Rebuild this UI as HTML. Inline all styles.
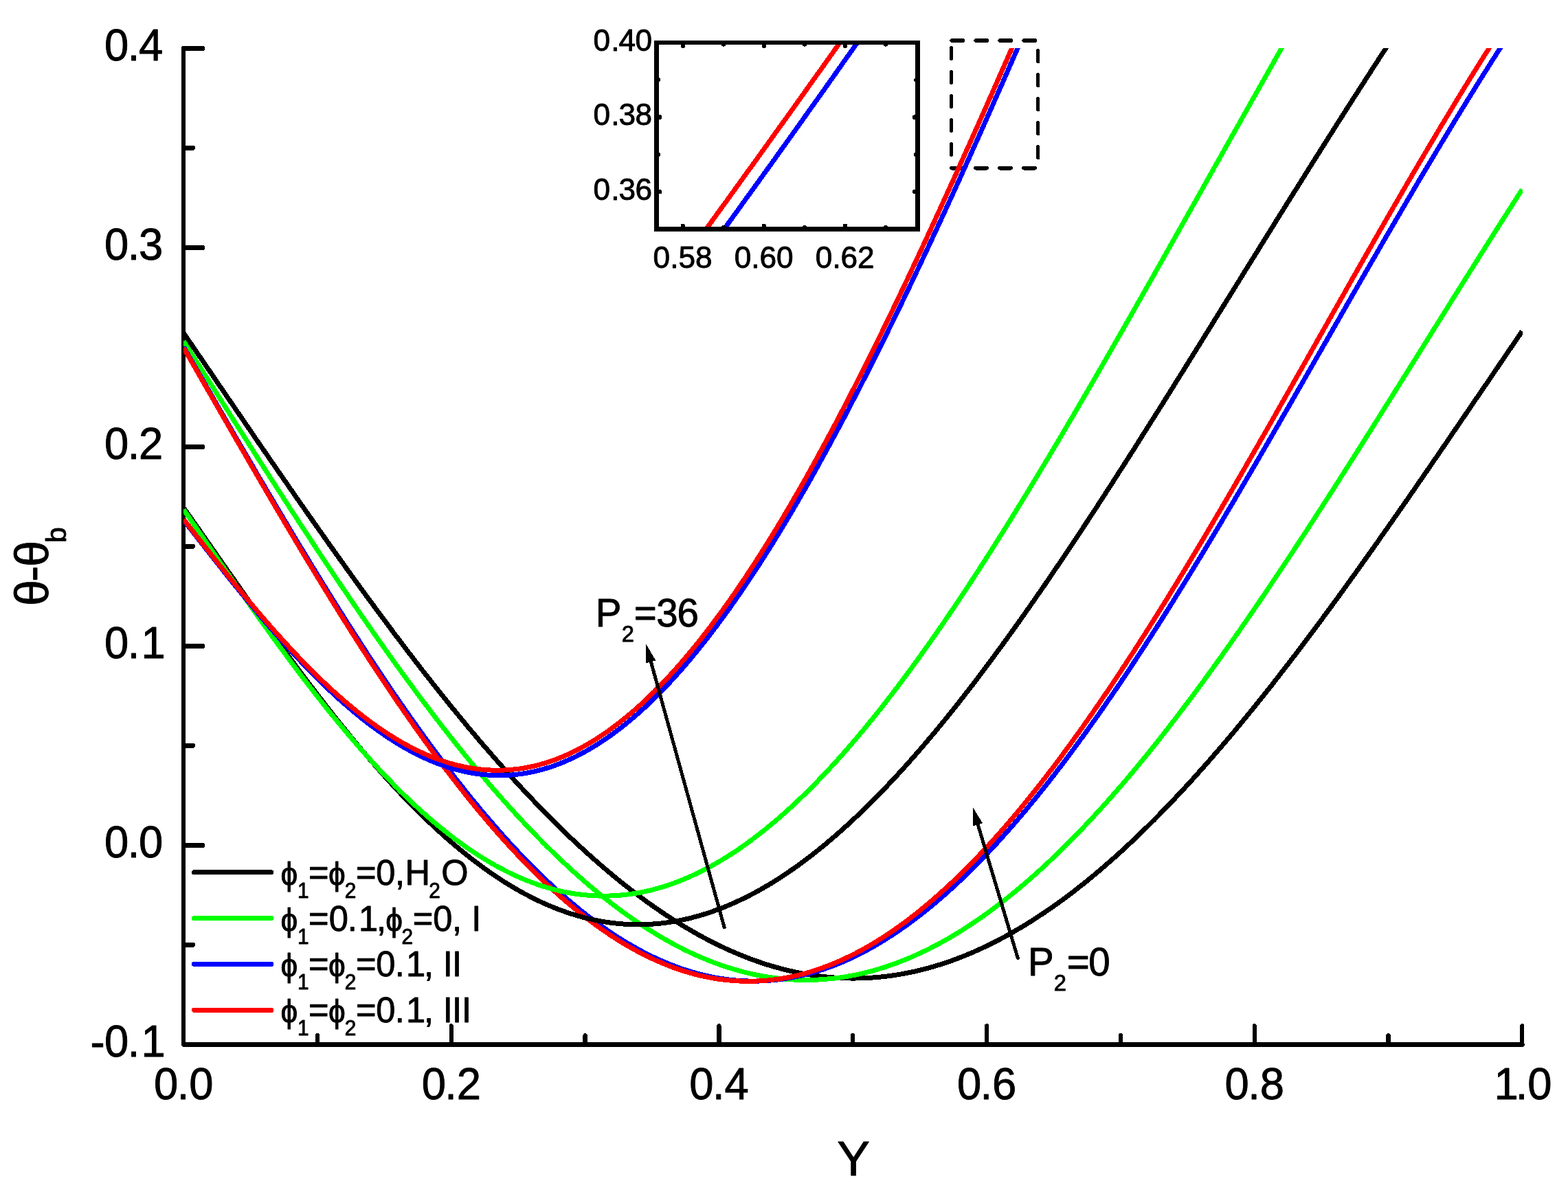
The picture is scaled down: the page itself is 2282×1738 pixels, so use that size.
<!DOCTYPE html>
<html lang="en"><head><meta charset="utf-8"><title>Temperature profile</title>
<style>html,body{margin:0;padding:0;background:#fff}svg{display:block}text{font-family:"Liberation Sans",sans-serif;fill:#000;stroke:#000;stroke-width:0.9px;stroke-linejoin:round;white-space:pre}</style></head><body>
<svg width="2282" height="1738" viewBox="0 0 2282 1738" role="img" aria-label="Temperature profile chart">
<rect x="0" y="0" width="2282" height="1738" fill="#fff"/>
<defs>
<clipPath id="plotclip"><rect x="267" y="70" width="1949" height="1454"/></clipPath>
<clipPath id="insclip"><rect x="955.6" y="62.1" width="380.1" height="271.3"/></clipPath>
</defs>
<g fill="none" stroke="#000" stroke-width="5.8" stroke-linecap="round" stroke-dasharray="15.8 19.2" shape-rendering="crispEdges">
<path d="M1385.2,59 H1514"/>
<path d="M1385.2,244.6 H1514"/>
<path stroke-width="5" stroke-dasharray="16 19" d="M1384.6,69.5 V244.6"/>
<path stroke-width="5" stroke-dasharray="16 19" d="M1510.6,73.7 V244.6"/>
</g>
<g fill="none" stroke="#000" stroke-linecap="round" stroke-linejoin="round" shape-rendering="crispEdges">
<path stroke-width="6.1" d="M267.0,70.4 V1520.4"/>
<path stroke-width="6.8" d="M267.4,1520.4 H2215.3"/>
<path stroke-width="6.8" d="M267.4,70.4 h27.6"/>
<path stroke-width="6.8" d="M267.4,215.4 h13.2"/>
<path stroke-width="6.8" d="M267.4,360.4 h27.6"/>
<path stroke-width="6.8" d="M267.4,505.4 h13.2"/>
<path stroke-width="6.8" d="M267.4,650.4 h27.6"/>
<path stroke-width="6.8" d="M267.4,795.4 h13.2"/>
<path stroke-width="6.8" d="M267.4,940.4 h27.6"/>
<path stroke-width="6.8" d="M267.4,1085.4 h13.2"/>
<path stroke-width="6.8" d="M267.4,1230.4 h27.6"/>
<path stroke-width="6.8" d="M267.4,1375.4 h13.2"/>
<path stroke-width="6.8" d="M267.4,1520.4 h27.6"/>
<path stroke-width="6.3" d="M462.0,1520.4 v-13.2"/>
<path stroke-width="6.3" d="M656.8,1520.4 v-27"/>
<path stroke-width="6.3" d="M851.6,1520.4 v-13.2"/>
<path stroke-width="6.3" d="M1046.4,1520.4 v-27"/>
<path stroke-width="6.3" d="M1241.2,1520.4 v-13.2"/>
<path stroke-width="6.3" d="M1436.1,1520.4 v-27"/>
<path stroke-width="6.3" d="M1630.9,1520.4 v-13.2"/>
<path stroke-width="6.3" d="M1825.7,1520.4 v-27"/>
<path stroke-width="6.3" d="M2020.5,1520.4 v-13.2"/>
<path stroke-width="6.3" d="M2215.3,1520.4 v-27"/>
</g>
<g fill="none" stroke-width="7.0" stroke-linejoin="round" shape-rendering="crispEdges" clip-path="url(#plotclip)">
<path stroke="#000000" d="M267.2,484.6 L270.4,489.4 L273.7,494.1 L276.9,498.9 L280.2,503.6 L283.4,508.4 L286.7,513.2 L289.9,517.9 L293.2,522.7 L296.4,527.4 L299.7,532.2 L302.9,537.0 L306.2,541.7 L309.4,546.5 L312.7,551.3 L315.9,556.0 L319.1,560.8 L322.4,565.5 L325.6,570.3 L328.9,575.1 L332.1,579.8 L335.4,584.6 L338.6,589.3 L341.9,594.1 L345.1,598.8 L348.4,603.6 L351.6,608.3 L354.9,613.1 L358.1,617.8 L361.4,622.6 L364.6,627.3 L367.9,632.1 L371.1,636.8 L374.3,641.5 L377.6,646.3 L380.8,651.0 L384.1,655.7 L387.3,660.4 L390.6,665.2 L393.8,669.9 L397.1,674.6 L400.3,679.3 L403.6,684.0 L406.8,688.7 L410.1,693.4 L413.3,698.1 L416.6,702.8 L419.8,707.5 L423.0,712.1 L426.3,716.8 L429.5,721.5 L432.8,726.2 L436.0,730.8 L439.3,735.5 L442.5,740.1 L445.8,744.8 L449.0,749.4 L452.3,754.0 L455.5,758.7 L458.8,763.3 L462.0,767.9 L465.3,772.5 L468.5,777.1 L471.8,781.7 L475.0,786.3 L478.2,790.9 L481.5,795.4 L484.7,800.0 L488.0,804.6 L491.2,809.1 L494.5,813.7 L497.7,818.2 L501.0,822.7 L504.2,827.3 L507.5,831.8 L510.7,836.3 L514.0,840.8 L517.2,845.3 L520.5,849.8 L523.7,854.2 L526.9,858.7 L530.2,863.2 L533.4,867.6 L536.7,872.0 L539.9,876.5 L543.2,880.9 L546.4,885.3 L549.7,889.7 L552.9,894.1 L556.2,898.5 L559.4,902.8 L562.7,907.2 L565.9,911.5 L569.2,915.9 L572.4,920.2 L575.6,924.5 L578.9,928.8 L582.1,933.1 L585.4,937.4 L588.6,941.7 L591.9,946.0 L595.1,950.2 L598.4,954.4 L601.6,958.7 L604.9,962.9 L608.1,967.1 L611.4,971.3 L614.6,975.5 L617.9,979.6 L621.1,983.8 L624.4,987.9 L627.6,992.0 L630.8,996.2 L634.1,1000.3 L637.3,1004.3 L640.6,1008.4 L643.8,1012.5 L647.1,1016.5 L650.3,1020.6 L653.6,1024.6 L656.8,1028.6 L660.1,1032.6 L663.3,1036.6 L666.6,1040.5 L669.8,1044.5 L673.1,1048.4 L676.3,1052.3 L679.5,1056.3 L682.8,1060.1 L686.0,1064.0 L689.3,1067.9 L692.5,1071.7 L695.8,1075.6 L699.0,1079.4 L702.3,1083.2 L705.5,1087.0 L708.8,1090.7 L712.0,1094.5 L715.3,1098.2 L718.5,1101.9 L721.8,1105.6 L725.0,1109.3 L728.3,1113.0 L731.5,1116.6 L734.7,1120.3 L738.0,1123.9 L741.2,1127.5 L744.5,1131.1 L747.7,1134.7 L751.0,1138.2 L754.2,1141.8 L757.5,1145.3 L760.7,1148.8 L764.0,1152.2 L767.2,1155.7 L770.5,1159.2 L773.7,1162.6 L777.0,1166.0 L780.2,1169.4 L783.4,1172.8 L786.7,1176.1 L789.9,1179.4 L793.2,1182.8 L796.4,1186.1 L799.7,1189.3 L802.9,1192.6 L806.2,1195.8 L809.4,1199.1 L812.7,1202.3 L815.9,1205.4 L819.2,1208.6 L822.4,1211.8 L825.7,1214.9 L828.9,1218.0 L832.1,1221.1 L835.4,1224.1 L838.6,1227.2 L841.9,1230.2 L845.1,1233.2 L848.4,1236.2 L851.6,1239.1 L854.9,1242.1 L858.1,1245.0 L861.4,1247.9 L864.6,1250.8 L867.9,1253.6 L871.1,1256.5 L874.4,1259.3 L877.6,1262.1 L880.9,1264.9 L884.1,1267.6 L887.3,1270.4 L890.6,1273.1 L893.8,1275.7 L897.1,1278.4 L900.3,1281.1 L903.6,1283.7 L906.8,1286.3 L910.1,1288.9 L913.3,1291.4 L916.6,1293.9 L919.8,1296.5 L923.1,1298.9 L926.3,1301.4 L929.6,1303.9 L932.8,1306.3 L936.0,1308.7 L939.3,1311.0 L942.5,1313.4 L945.8,1315.7 L949.0,1318.0 L952.3,1320.3 L955.5,1322.6 L958.8,1324.8 L962.0,1327.0 L965.3,1329.2 L968.5,1331.4 L971.8,1333.5 L975.0,1335.6 L978.3,1337.7 L981.5,1339.8 L984.8,1341.9 L988.0,1343.9 L991.2,1345.9 L994.5,1347.9 L997.7,1349.8 L1001.0,1351.7 L1004.2,1353.6 L1007.5,1355.5 L1010.7,1357.4 L1014.0,1359.2 L1017.2,1361.0 L1020.5,1362.8 L1023.7,1364.6 L1027.0,1366.3 L1030.2,1368.0 L1033.5,1369.7 L1036.7,1371.3 L1039.9,1373.0 L1043.2,1374.6 L1046.4,1376.2 L1049.7,1377.7 L1052.9,1379.2 L1056.2,1380.8 L1059.4,1382.2 L1062.7,1383.7 L1065.9,1385.1 L1069.2,1386.5 L1072.4,1387.9 L1075.7,1389.3 L1078.9,1390.6 L1082.2,1391.9 L1085.4,1393.2 L1088.6,1394.4 L1091.9,1395.7 L1095.1,1396.9 L1098.4,1398.1 L1101.6,1399.2 L1104.9,1400.3 L1108.1,1401.4 L1111.4,1402.5 L1114.6,1403.6 L1117.9,1404.6 L1121.1,1405.6 L1124.4,1406.5 L1127.6,1407.5 L1130.9,1408.4 L1134.1,1409.3 L1137.4,1410.2 L1140.6,1411.0 L1143.8,1411.8 L1147.1,1412.6 L1150.3,1413.4 L1153.6,1414.1 L1156.8,1414.8 L1160.1,1415.5 L1163.3,1416.2 L1166.6,1416.8 L1169.8,1417.4 L1173.1,1418.0 L1176.3,1418.5 L1179.6,1419.0 L1182.8,1419.5 L1186.1,1420.0 L1189.3,1420.5 L1192.5,1420.9 L1195.8,1421.3 L1199.0,1421.6 L1202.3,1422.0 L1205.5,1422.3 L1208.8,1422.6 L1212.0,1422.8 L1215.3,1423.1 L1218.5,1423.3 L1221.8,1423.5 L1225.0,1423.6 L1228.3,1423.7 L1231.5,1423.8 L1234.8,1423.9 L1238.0,1424.0 L1241.2,1424.0 L1244.5,1424.0 L1247.7,1423.9 L1251.0,1423.9 L1254.2,1423.8 L1257.5,1423.7 L1260.7,1423.6 L1264.0,1423.4 L1267.2,1423.2 L1270.5,1423.0 L1273.7,1422.7 L1277.0,1422.5 L1280.2,1422.2 L1283.5,1421.8 L1286.7,1421.5 L1290.0,1421.1 L1293.2,1420.7 L1296.4,1420.3 L1299.7,1419.8 L1302.9,1419.3 L1306.2,1418.8 L1309.4,1418.3 L1312.7,1417.7 L1315.9,1417.1 L1319.2,1416.5 L1322.4,1415.9 L1325.7,1415.2 L1328.9,1414.5 L1332.2,1413.8 L1335.4,1413.0 L1338.7,1412.3 L1341.9,1411.5 L1345.1,1410.6 L1348.4,1409.8 L1351.6,1408.9 L1354.9,1408.0 L1358.1,1407.1 L1361.4,1406.1 L1364.6,1405.1 L1367.9,1404.1 L1371.1,1403.1 L1374.4,1402.0 L1377.6,1400.9 L1380.9,1399.8 L1384.1,1398.7 L1387.4,1397.5 L1390.6,1396.3 L1393.9,1395.1 L1397.1,1393.9 L1400.3,1392.6 L1403.6,1391.3 L1406.8,1390.0 L1410.1,1388.6 L1413.3,1387.3 L1416.6,1385.9 L1419.8,1384.4 L1423.1,1383.0 L1426.3,1381.5 L1429.6,1380.0 L1432.8,1378.5 L1436.1,1376.9 L1439.3,1375.4 L1442.6,1373.8 L1445.8,1372.2 L1449.0,1370.5 L1452.3,1368.8 L1455.5,1367.1 L1458.8,1365.4 L1462.0,1363.7 L1465.3,1361.9 L1468.5,1360.1 L1471.8,1358.3 L1475.0,1356.4 L1478.3,1354.5 L1481.5,1352.6 L1484.8,1350.7 L1488.0,1348.8 L1491.3,1346.8 L1494.5,1344.8 L1497.7,1342.8 L1501.0,1340.8 L1504.2,1338.7 L1507.5,1336.6 L1510.7,1334.5 L1514.0,1332.3 L1517.2,1330.2 L1520.5,1328.0 L1523.7,1325.8 L1527.0,1323.6 L1530.2,1321.3 L1533.5,1319.0 L1536.7,1316.7 L1540.0,1314.4 L1543.2,1312.0 L1546.5,1309.7 L1549.7,1307.3 L1552.9,1304.9 L1556.2,1302.4 L1559.4,1300.0 L1562.7,1297.5 L1565.9,1295.0 L1569.2,1292.4 L1572.4,1289.9 L1575.7,1287.3 L1578.9,1284.7 L1582.2,1282.1 L1585.4,1279.4 L1588.7,1276.8 L1591.9,1274.1 L1595.2,1271.4 L1598.4,1268.6 L1601.6,1265.9 L1604.9,1263.1 L1608.1,1260.3 L1611.4,1257.5 L1614.6,1254.6 L1617.9,1251.8 L1621.1,1248.9 L1624.4,1246.0 L1627.6,1243.1 L1630.9,1240.1 L1634.1,1237.1 L1637.4,1234.2 L1640.6,1231.2 L1643.9,1228.1 L1647.1,1225.1 L1650.4,1222.0 L1653.6,1218.9 L1656.8,1215.8 L1660.1,1212.7 L1663.3,1209.5 L1666.6,1206.3 L1669.8,1203.2 L1673.1,1199.9 L1676.3,1196.7 L1679.6,1193.5 L1682.8,1190.2 L1686.1,1186.9 L1689.3,1183.6 L1692.6,1180.3 L1695.8,1176.9 L1699.1,1173.6 L1702.3,1170.2 L1705.5,1166.8 L1708.8,1163.4 L1712.0,1159.9 L1715.3,1156.5 L1718.5,1153.0 L1721.8,1149.5 L1725.0,1146.0 L1728.3,1142.4 L1731.5,1138.9 L1734.8,1135.3 L1738.0,1131.8 L1741.3,1128.2 L1744.5,1124.5 L1747.8,1120.9 L1751.0,1117.2 L1754.2,1113.6 L1757.5,1109.9 L1760.7,1106.2 L1764.0,1102.5 L1767.2,1098.7 L1770.5,1095.0 L1773.7,1091.2 L1777.0,1087.4 L1780.2,1083.6 L1783.5,1079.8 L1786.7,1076.0 L1790.0,1072.1 L1793.2,1068.3 L1796.5,1064.4 L1799.7,1060.5 L1803.0,1056.6 L1806.2,1052.6 L1809.4,1048.7 L1812.7,1044.7 L1815.9,1040.8 L1819.2,1036.8 L1822.4,1032.8 L1825.7,1028.8 L1828.9,1024.8 L1832.2,1020.7 L1835.4,1016.7 L1838.7,1012.6 L1841.9,1008.5 L1845.2,1004.4 L1848.4,1000.3 L1851.7,996.2 L1854.9,992.0 L1858.1,987.9 L1861.4,983.7 L1864.6,979.5 L1867.9,975.3 L1871.1,971.1 L1874.4,966.9 L1877.6,962.7 L1880.9,958.5 L1884.1,954.2 L1887.4,950.0 L1890.6,945.7 L1893.9,941.4 L1897.1,937.1 L1900.4,932.8 L1903.6,928.5 L1906.9,924.1 L1910.1,919.8 L1913.3,915.4 L1916.6,911.1 L1919.8,906.7 L1923.1,902.3 L1926.3,897.9 L1929.6,893.5 L1932.8,889.1 L1936.1,884.7 L1939.3,880.2 L1942.6,875.8 L1945.8,871.3 L1949.1,866.9 L1952.3,862.4 L1955.6,857.9 L1958.8,853.4 L1962.0,848.9 L1965.3,844.4 L1968.5,839.9 L1971.8,835.4 L1975.0,830.8 L1978.3,826.3 L1981.5,821.7 L1984.8,817.2 L1988.0,812.6 L1991.3,808.0 L1994.5,803.5 L1997.8,798.9 L2001.0,794.3 L2004.3,789.7 L2007.5,785.1 L2010.7,780.4 L2014.0,775.8 L2017.2,771.2 L2020.5,766.6 L2023.7,761.9 L2027.0,757.3 L2030.2,752.6 L2033.5,748.0 L2036.7,743.3 L2040.0,738.6 L2043.2,733.9 L2046.5,729.3 L2049.7,724.6 L2053.0,719.9 L2056.2,715.2 L2059.5,710.5 L2062.7,705.8 L2065.9,701.1 L2069.2,696.4 L2072.4,691.6 L2075.7,686.9 L2078.9,682.2 L2082.2,677.5 L2085.4,672.7 L2088.7,668.0 L2091.9,663.3 L2095.2,658.5 L2098.4,653.8 L2101.7,649.0 L2104.9,644.3 L2108.2,639.5 L2111.4,634.8 L2114.6,630.0 L2117.9,625.2 L2121.1,620.5 L2124.4,615.7 L2127.6,611.0 L2130.9,606.2 L2134.1,601.4 L2137.4,596.7 L2140.6,591.9 L2143.9,587.1 L2147.1,582.3 L2150.4,577.6 L2153.6,572.8 L2156.9,568.0 L2160.1,563.2 L2163.4,558.5 L2166.6,553.7 L2169.8,548.9 L2173.1,544.1 L2176.3,539.4 L2179.6,534.6 L2182.8,529.8 L2186.1,525.0 L2189.3,520.3 L2192.6,515.5 L2195.8,510.7 L2199.1,505.9 L2202.3,501.2 L2205.6,496.4 L2208.8,491.6 L2212.1,486.9 L2215.3,482.1"/>
<path stroke="#00ff00" d="M267.2,496.4 L270.4,501.6 L273.7,506.7 L276.9,511.8 L280.2,517.0 L283.4,522.1 L286.7,527.2 L289.9,532.3 L293.2,537.5 L296.4,542.6 L299.7,547.7 L302.9,552.9 L306.2,558.0 L309.4,563.1 L312.7,568.3 L315.9,573.4 L319.1,578.5 L322.4,583.7 L325.6,588.8 L328.9,593.9 L332.1,599.0 L335.4,604.2 L338.6,609.3 L341.9,614.4 L345.1,619.5 L348.4,624.6 L351.6,629.7 L354.9,634.8 L358.1,639.9 L361.4,645.0 L364.6,650.1 L367.9,655.2 L371.1,660.3 L374.3,665.4 L377.6,670.5 L380.8,675.6 L384.1,680.6 L387.3,685.7 L390.6,690.8 L393.8,695.8 L397.1,700.9 L400.3,705.9 L403.6,711.0 L406.8,716.0 L410.1,721.0 L413.3,726.1 L416.6,731.1 L419.8,736.1 L423.0,741.1 L426.3,746.1 L429.5,751.1 L432.8,756.1 L436.0,761.1 L439.3,766.0 L442.5,771.0 L445.8,776.0 L449.0,780.9 L452.3,785.9 L455.5,790.8 L458.8,795.7 L462.0,800.6 L465.3,805.5 L468.5,810.4 L471.8,815.3 L475.0,820.2 L478.2,825.1 L481.5,829.9 L484.7,834.8 L488.0,839.6 L491.2,844.5 L494.5,849.3 L497.7,854.1 L501.0,858.9 L504.2,863.7 L507.5,868.5 L510.7,873.3 L514.0,878.0 L517.2,882.8 L520.5,887.5 L523.7,892.2 L526.9,896.9 L530.2,901.6 L533.4,906.3 L536.7,911.0 L539.9,915.7 L543.2,920.3 L546.4,925.0 L549.7,929.6 L552.9,934.2 L556.2,938.8 L559.4,943.4 L562.7,948.0 L565.9,952.5 L569.2,957.1 L572.4,961.6 L575.6,966.1 L578.9,970.6 L582.1,975.1 L585.4,979.6 L588.6,984.1 L591.9,988.5 L595.1,993.0 L598.4,997.4 L601.6,1001.8 L604.9,1006.2 L608.1,1010.5 L611.4,1014.9 L614.6,1019.2 L617.9,1023.5 L621.1,1027.8 L624.4,1032.1 L627.6,1036.4 L630.8,1040.7 L634.1,1044.9 L637.3,1049.1 L640.6,1053.3 L643.8,1057.5 L647.1,1061.7 L650.3,1065.8 L653.6,1070.0 L656.8,1074.1 L660.1,1078.2 L663.3,1082.3 L666.6,1086.3 L669.8,1090.4 L673.1,1094.4 L676.3,1098.4 L679.5,1102.4 L682.8,1106.4 L686.0,1110.3 L689.3,1114.3 L692.5,1118.2 L695.8,1122.1 L699.0,1126.0 L702.3,1129.8 L705.5,1133.6 L708.8,1137.5 L712.0,1141.3 L715.3,1145.0 L718.5,1148.8 L721.8,1152.5 L725.0,1156.2 L728.3,1159.9 L731.5,1163.6 L734.7,1167.3 L738.0,1170.9 L741.2,1174.5 L744.5,1178.1 L747.7,1181.6 L751.0,1185.2 L754.2,1188.7 L757.5,1192.2 L760.7,1195.7 L764.0,1199.1 L767.2,1202.6 L770.5,1206.0 L773.7,1209.4 L777.0,1212.7 L780.2,1216.1 L783.4,1219.4 L786.7,1222.7 L789.9,1226.0 L793.2,1229.2 L796.4,1232.5 L799.7,1235.7 L802.9,1238.9 L806.2,1242.0 L809.4,1245.1 L812.7,1248.3 L815.9,1251.3 L819.2,1254.4 L822.4,1257.4 L825.7,1260.5 L828.9,1263.5 L832.1,1266.4 L835.4,1269.4 L838.6,1272.3 L841.9,1275.2 L845.1,1278.0 L848.4,1280.9 L851.6,1283.7 L854.9,1286.5 L858.1,1289.3 L861.4,1292.0 L864.6,1294.7 L867.9,1297.4 L871.1,1300.1 L874.4,1302.7 L877.6,1305.3 L880.9,1307.9 L884.1,1310.5 L887.3,1313.0 L890.6,1315.5 L893.8,1318.0 L897.1,1320.5 L900.3,1322.9 L903.6,1325.3 L906.8,1327.7 L910.1,1330.0 L913.3,1332.4 L916.6,1334.6 L919.8,1336.9 L923.1,1339.2 L926.3,1341.4 L929.6,1343.6 L932.8,1345.7 L936.0,1347.9 L939.3,1350.0 L942.5,1352.1 L945.8,1354.1 L949.0,1356.1 L952.3,1358.1 L955.5,1360.1 L958.8,1362.1 L962.0,1364.0 L965.3,1365.9 L968.5,1367.7 L971.8,1369.5 L975.0,1371.3 L978.3,1373.1 L981.5,1374.9 L984.8,1376.6 L988.0,1378.3 L991.2,1379.9 L994.5,1381.6 L997.7,1383.2 L1001.0,1384.8 L1004.2,1386.3 L1007.5,1387.8 L1010.7,1389.3 L1014.0,1390.8 L1017.2,1392.2 L1020.5,1393.6 L1023.7,1395.0 L1027.0,1396.3 L1030.2,1397.7 L1033.5,1398.9 L1036.7,1400.2 L1039.9,1401.4 L1043.2,1402.6 L1046.4,1403.8 L1049.7,1405.0 L1052.9,1406.1 L1056.2,1407.2 L1059.4,1408.2 L1062.7,1409.2 L1065.9,1410.2 L1069.2,1411.2 L1072.4,1412.1 L1075.7,1413.0 L1078.9,1413.9 L1082.2,1414.8 L1085.4,1415.6 L1088.6,1416.4 L1091.9,1417.1 L1095.1,1417.9 L1098.4,1418.6 L1101.6,1419.2 L1104.9,1419.9 L1108.1,1420.5 L1111.4,1421.1 L1114.6,1421.6 L1117.9,1422.2 L1121.1,1422.6 L1124.4,1423.1 L1127.6,1423.5 L1130.9,1423.9 L1134.1,1424.3 L1137.4,1424.7 L1140.6,1425.0 L1143.8,1425.3 L1147.1,1425.5 L1150.3,1425.7 L1153.6,1425.9 L1156.8,1426.1 L1160.1,1426.2 L1163.3,1426.3 L1166.6,1426.4 L1169.8,1426.4 L1173.1,1426.5 L1176.3,1426.4 L1179.6,1426.4 L1182.8,1426.3 L1186.1,1426.2 L1189.3,1426.1 L1192.5,1425.9 L1195.8,1425.7 L1199.0,1425.5 L1202.3,1425.2 L1205.5,1424.9 L1208.8,1424.6 L1212.0,1424.3 L1215.3,1423.9 L1218.5,1423.5 L1221.8,1423.1 L1225.0,1422.6 L1228.3,1422.1 L1231.5,1421.6 L1234.8,1421.0 L1238.0,1420.4 L1241.2,1419.8 L1244.5,1419.2 L1247.7,1418.5 L1251.0,1417.8 L1254.2,1417.0 L1257.5,1416.3 L1260.7,1415.5 L1264.0,1414.7 L1267.2,1413.8 L1270.5,1412.9 L1273.7,1412.0 L1277.0,1411.1 L1280.2,1410.1 L1283.5,1409.1 L1286.7,1408.1 L1290.0,1407.0 L1293.2,1405.9 L1296.4,1404.8 L1299.7,1403.7 L1302.9,1402.5 L1306.2,1401.3 L1309.4,1400.1 L1312.7,1398.8 L1315.9,1397.5 L1319.2,1396.2 L1322.4,1394.8 L1325.7,1393.4 L1328.9,1392.0 L1332.2,1390.6 L1335.4,1389.1 L1338.7,1387.6 L1341.9,1386.1 L1345.1,1384.6 L1348.4,1383.0 L1351.6,1381.4 L1354.9,1379.7 L1358.1,1378.1 L1361.4,1376.4 L1364.6,1374.7 L1367.9,1372.9 L1371.1,1371.1 L1374.4,1369.3 L1377.6,1367.5 L1380.9,1365.6 L1384.1,1363.7 L1387.4,1361.8 L1390.6,1359.9 L1393.9,1357.9 L1397.1,1355.9 L1400.3,1353.9 L1403.6,1351.8 L1406.8,1349.7 L1410.1,1347.6 L1413.3,1345.5 L1416.6,1343.3 L1419.8,1341.1 L1423.1,1338.9 L1426.3,1336.6 L1429.6,1334.4 L1432.8,1332.1 L1436.1,1329.7 L1439.3,1327.4 L1442.6,1325.0 L1445.8,1322.6 L1449.0,1320.2 L1452.3,1317.7 L1455.5,1315.2 L1458.8,1312.7 L1462.0,1310.1 L1465.3,1307.6 L1468.5,1305.0 L1471.8,1302.4 L1475.0,1299.7 L1478.3,1297.1 L1481.5,1294.4 L1484.8,1291.6 L1488.0,1288.9 L1491.3,1286.1 L1494.5,1283.3 L1497.7,1280.5 L1501.0,1277.7 L1504.2,1274.8 L1507.5,1271.9 L1510.7,1269.0 L1514.0,1266.0 L1517.2,1263.1 L1520.5,1260.1 L1523.7,1257.0 L1527.0,1254.0 L1530.2,1250.9 L1533.5,1247.8 L1536.7,1244.7 L1540.0,1241.6 L1543.2,1238.4 L1546.5,1235.2 L1549.7,1232.0 L1552.9,1228.8 L1556.2,1225.5 L1559.4,1222.3 L1562.7,1219.0 L1565.9,1215.6 L1569.2,1212.3 L1572.4,1208.9 L1575.7,1205.5 L1578.9,1202.1 L1582.2,1198.7 L1585.4,1195.2 L1588.7,1191.7 L1591.9,1188.2 L1595.2,1184.7 L1598.4,1181.1 L1601.6,1177.6 L1604.9,1174.0 L1608.1,1170.4 L1611.4,1166.7 L1614.6,1163.1 L1617.9,1159.4 L1621.1,1155.7 L1624.4,1152.0 L1627.6,1148.2 L1630.9,1144.5 L1634.1,1140.7 L1637.4,1136.9 L1640.6,1133.1 L1643.9,1129.2 L1647.1,1125.4 L1650.4,1121.5 L1653.6,1117.6 L1656.8,1113.7 L1660.1,1109.7 L1663.3,1105.8 L1666.6,1101.8 L1669.8,1097.8 L1673.1,1093.8 L1676.3,1089.7 L1679.6,1085.7 L1682.8,1081.6 L1686.1,1077.5 L1689.3,1073.4 L1692.6,1069.3 L1695.8,1065.1 L1699.1,1061.0 L1702.3,1056.8 L1705.5,1052.6 L1708.8,1048.4 L1712.0,1044.1 L1715.3,1039.9 L1718.5,1035.6 L1721.8,1031.3 L1725.0,1027.0 L1728.3,1022.7 L1731.5,1018.4 L1734.8,1014.0 L1738.0,1009.7 L1741.3,1005.3 L1744.5,1000.9 L1747.8,996.5 L1751.0,992.1 L1754.2,987.6 L1757.5,983.1 L1760.7,978.7 L1764.0,974.2 L1767.2,969.7 L1770.5,965.2 L1773.7,960.6 L1777.0,956.1 L1780.2,951.5 L1783.5,946.9 L1786.7,942.4 L1790.0,937.7 L1793.2,933.1 L1796.5,928.5 L1799.7,923.9 L1803.0,919.2 L1806.2,914.5 L1809.4,909.8 L1812.7,905.1 L1815.9,900.4 L1819.2,895.7 L1822.4,891.0 L1825.7,886.2 L1828.9,881.5 L1832.2,876.7 L1835.4,871.9 L1838.7,867.1 L1841.9,862.3 L1845.2,857.5 L1848.4,852.7 L1851.7,847.9 L1854.9,843.0 L1858.1,838.2 L1861.4,833.3 L1864.6,828.4 L1867.9,823.5 L1871.1,818.6 L1874.4,813.7 L1877.6,808.8 L1880.9,803.9 L1884.1,798.9 L1887.4,794.0 L1890.6,789.0 L1893.9,784.1 L1897.1,779.1 L1900.4,774.1 L1903.6,769.1 L1906.9,764.1 L1910.1,759.1 L1913.3,754.1 L1916.6,749.1 L1919.8,744.1 L1923.1,739.0 L1926.3,734.0 L1929.6,729.0 L1932.8,723.9 L1936.1,718.8 L1939.3,713.8 L1942.6,708.7 L1945.8,703.6 L1949.1,698.5 L1952.3,693.4 L1955.6,688.3 L1958.8,683.2 L1962.0,678.1 L1965.3,673.0 L1968.5,667.9 L1971.8,662.8 L1975.0,657.6 L1978.3,652.5 L1981.5,647.4 L1984.8,642.2 L1988.0,637.1 L1991.3,631.9 L1994.5,626.8 L1997.8,621.6 L2001.0,616.4 L2004.3,611.3 L2007.5,606.1 L2010.7,600.9 L2014.0,595.7 L2017.2,590.6 L2020.5,585.4 L2023.7,580.2 L2027.0,575.0 L2030.2,569.8 L2033.5,564.6 L2036.7,559.5 L2040.0,554.3 L2043.2,549.1 L2046.5,543.9 L2049.7,538.7 L2053.0,533.5 L2056.2,528.3 L2059.5,523.1 L2062.7,517.9 L2065.9,512.7 L2069.2,507.5 L2072.4,502.3 L2075.7,497.1 L2078.9,491.9 L2082.2,486.7 L2085.4,481.5 L2088.7,476.3 L2091.9,471.1 L2095.2,465.9 L2098.4,460.7 L2101.7,455.5 L2104.9,450.3 L2108.2,445.1 L2111.4,439.9 L2114.6,434.7 L2117.9,429.6 L2121.1,424.4 L2124.4,419.2 L2127.6,414.0 L2130.9,408.8 L2134.1,403.7 L2137.4,398.5 L2140.6,393.3 L2143.9,388.2 L2147.1,383.0 L2150.4,377.9 L2153.6,372.7 L2156.9,367.5 L2160.1,362.4 L2163.4,357.3 L2166.6,352.1 L2169.8,347.0 L2173.1,341.9 L2176.3,336.7 L2179.6,331.6 L2182.8,326.5 L2186.1,321.4 L2189.3,316.3 L2192.6,311.2 L2195.8,306.1 L2199.1,301.0 L2202.3,295.9 L2205.6,290.9 L2208.8,285.8 L2212.1,280.7 L2215.3,275.7"/>
<path stroke="#0000ff" d="M267.2,504.8 L270.4,510.5 L273.7,516.1 L276.9,521.8 L280.2,527.4 L283.4,533.0 L286.7,538.7 L289.9,544.3 L293.2,549.9 L296.4,555.6 L299.7,561.2 L302.9,566.8 L306.2,572.5 L309.4,578.1 L312.7,583.7 L315.9,589.4 L319.1,595.0 L322.4,600.6 L325.6,606.2 L328.9,611.8 L332.1,617.4 L335.4,623.1 L338.6,628.7 L341.9,634.3 L345.1,639.8 L348.4,645.4 L351.6,651.0 L354.9,656.6 L358.1,662.2 L361.4,667.8 L364.6,673.3 L367.9,678.9 L371.1,684.4 L374.3,690.0 L377.6,695.5 L380.8,701.0 L384.1,706.6 L387.3,712.1 L390.6,717.6 L393.8,723.1 L397.1,728.6 L400.3,734.1 L403.6,739.6 L406.8,745.1 L410.1,750.5 L413.3,756.0 L416.6,761.4 L419.8,766.9 L423.0,772.3 L426.3,777.7 L429.5,783.1 L432.8,788.5 L436.0,793.9 L439.3,799.3 L442.5,804.6 L445.8,810.0 L449.0,815.3 L452.3,820.7 L455.5,826.0 L458.8,831.3 L462.0,836.6 L465.3,841.9 L468.5,847.2 L471.8,852.4 L475.0,857.7 L478.2,862.9 L481.5,868.1 L484.7,873.3 L488.0,878.5 L491.2,883.7 L494.5,888.9 L497.7,894.0 L501.0,899.2 L504.2,904.3 L507.5,909.4 L510.7,914.5 L514.0,919.6 L517.2,924.6 L520.5,929.7 L523.7,934.7 L526.9,939.7 L530.2,944.7 L533.4,949.7 L536.7,954.7 L539.9,959.6 L543.2,964.6 L546.4,969.5 L549.7,974.4 L552.9,979.3 L556.2,984.1 L559.4,989.0 L562.7,993.8 L565.9,998.6 L569.2,1003.4 L572.4,1008.2 L575.6,1012.9 L578.9,1017.7 L582.1,1022.4 L585.4,1027.1 L588.6,1031.7 L591.9,1036.4 L595.1,1041.0 L598.4,1045.6 L601.6,1050.2 L604.9,1054.8 L608.1,1059.4 L611.4,1063.9 L614.6,1068.4 L617.9,1072.9 L621.1,1077.4 L624.4,1081.8 L627.6,1086.3 L630.8,1090.7 L634.1,1095.0 L637.3,1099.4 L640.6,1103.7 L643.8,1108.0 L647.1,1112.3 L650.3,1116.6 L653.6,1120.9 L656.8,1125.1 L660.1,1129.3 L663.3,1133.5 L666.6,1137.6 L669.8,1141.7 L673.1,1145.8 L676.3,1149.9 L679.5,1154.0 L682.8,1158.0 L686.0,1162.0 L689.3,1166.0 L692.5,1169.9 L695.8,1173.9 L699.0,1177.8 L702.3,1181.7 L705.5,1185.5 L708.8,1189.3 L712.0,1193.1 L715.3,1196.9 L718.5,1200.7 L721.8,1204.4 L725.0,1208.1 L728.3,1211.8 L731.5,1215.4 L734.7,1219.0 L738.0,1222.6 L741.2,1226.2 L744.5,1229.7 L747.7,1233.2 L751.0,1236.7 L754.2,1240.2 L757.5,1243.6 L760.7,1247.0 L764.0,1250.4 L767.2,1253.7 L770.5,1257.0 L773.7,1260.3 L777.0,1263.5 L780.2,1266.8 L783.4,1270.0 L786.7,1273.1 L789.9,1276.3 L793.2,1279.4 L796.4,1282.5 L799.7,1285.5 L802.9,1288.5 L806.2,1291.5 L809.4,1294.5 L812.7,1297.4 L815.9,1300.3 L819.2,1303.2 L822.4,1306.0 L825.7,1308.9 L828.9,1311.6 L832.1,1314.4 L835.4,1317.1 L838.6,1319.8 L841.9,1322.5 L845.1,1325.1 L848.4,1327.7 L851.6,1330.2 L854.9,1332.8 L858.1,1335.3 L861.4,1337.7 L864.6,1340.2 L867.9,1342.6 L871.1,1345.0 L874.4,1347.3 L877.6,1349.6 L880.9,1351.9 L884.1,1354.1 L887.3,1356.4 L890.6,1358.5 L893.8,1360.7 L897.1,1362.8 L900.3,1364.9 L903.6,1366.9 L906.8,1369.0 L910.1,1371.0 L913.3,1372.9 L916.6,1374.8 L919.8,1376.7 L923.1,1378.6 L926.3,1380.4 L929.6,1382.2 L932.8,1383.9 L936.0,1385.7 L939.3,1387.3 L942.5,1389.0 L945.8,1390.6 L949.0,1392.2 L952.3,1393.8 L955.5,1395.3 L958.8,1396.8 L962.0,1398.2 L965.3,1399.6 L968.5,1401.0 L971.8,1402.4 L975.0,1403.7 L978.3,1405.0 L981.5,1406.2 L984.8,1407.4 L988.0,1408.6 L991.2,1409.8 L994.5,1410.9 L997.7,1411.9 L1001.0,1413.0 L1004.2,1414.0 L1007.5,1415.0 L1010.7,1415.9 L1014.0,1416.8 L1017.2,1417.7 L1020.5,1418.5 L1023.7,1419.3 L1027.0,1420.1 L1030.2,1420.8 L1033.5,1421.5 L1036.7,1422.2 L1039.9,1422.8 L1043.2,1423.4 L1046.4,1423.9 L1049.7,1424.5 L1052.9,1424.9 L1056.2,1425.4 L1059.4,1425.8 L1062.7,1426.2 L1065.9,1426.5 L1069.2,1426.9 L1072.4,1427.1 L1075.7,1427.4 L1078.9,1427.6 L1082.2,1427.8 L1085.4,1427.9 L1088.6,1428.0 L1091.9,1428.1 L1095.1,1428.1 L1098.4,1428.1 L1101.6,1428.0 L1104.9,1428.0 L1108.1,1427.9 L1111.4,1427.7 L1114.6,1427.5 L1117.9,1427.3 L1121.1,1427.1 L1124.4,1426.8 L1127.6,1426.5 L1130.9,1426.1 L1134.1,1425.7 L1137.4,1425.3 L1140.6,1424.9 L1143.8,1424.4 L1147.1,1423.8 L1150.3,1423.3 L1153.6,1422.7 L1156.8,1422.0 L1160.1,1421.4 L1163.3,1420.7 L1166.6,1419.9 L1169.8,1419.2 L1173.1,1418.4 L1176.3,1417.5 L1179.6,1416.6 L1182.8,1415.7 L1186.1,1414.8 L1189.3,1413.8 L1192.5,1412.8 L1195.8,1411.7 L1199.0,1410.7 L1202.3,1409.5 L1205.5,1408.4 L1208.8,1407.2 L1212.0,1406.0 L1215.3,1404.7 L1218.5,1403.4 L1221.8,1402.1 L1225.0,1400.8 L1228.3,1399.4 L1231.5,1398.0 L1234.8,1396.5 L1238.0,1395.0 L1241.2,1393.5 L1244.5,1391.9 L1247.7,1390.3 L1251.0,1388.7 L1254.2,1387.0 L1257.5,1385.3 L1260.7,1383.6 L1264.0,1381.9 L1267.2,1380.1 L1270.5,1378.2 L1273.7,1376.4 L1277.0,1374.5 L1280.2,1372.6 L1283.5,1370.6 L1286.7,1368.6 L1290.0,1366.6 L1293.2,1364.5 L1296.4,1362.4 L1299.7,1360.3 L1302.9,1358.2 L1306.2,1356.0 L1309.4,1353.8 L1312.7,1351.5 L1315.9,1349.2 L1319.2,1346.9 L1322.4,1344.6 L1325.7,1342.2 L1328.9,1339.8 L1332.2,1337.3 L1335.4,1334.9 L1338.7,1332.3 L1341.9,1329.8 L1345.1,1327.2 L1348.4,1324.6 L1351.6,1322.0 L1354.9,1319.4 L1358.1,1316.7 L1361.4,1313.9 L1364.6,1311.2 L1367.9,1308.4 L1371.1,1305.6 L1374.4,1302.7 L1377.6,1299.9 L1380.9,1297.0 L1384.1,1294.0 L1387.4,1291.1 L1390.6,1288.1 L1393.9,1285.0 L1397.1,1282.0 L1400.3,1278.9 L1403.6,1275.8 L1406.8,1272.7 L1410.1,1269.5 L1413.3,1266.3 L1416.6,1263.1 L1419.8,1259.8 L1423.1,1256.5 L1426.3,1253.2 L1429.6,1249.9 L1432.8,1246.5 L1436.1,1243.1 L1439.3,1239.7 L1442.6,1236.2 L1445.8,1232.7 L1449.0,1229.2 L1452.3,1225.7 L1455.5,1222.1 L1458.8,1218.5 L1462.0,1214.9 L1465.3,1211.3 L1468.5,1207.6 L1471.8,1203.9 L1475.0,1200.2 L1478.3,1196.4 L1481.5,1192.6 L1484.8,1188.8 L1488.0,1185.0 L1491.3,1181.1 L1494.5,1177.3 L1497.7,1173.4 L1501.0,1169.4 L1504.2,1165.5 L1507.5,1161.5 L1510.7,1157.5 L1514.0,1153.4 L1517.2,1149.4 L1520.5,1145.3 L1523.7,1141.2 L1527.0,1137.1 L1530.2,1132.9 L1533.5,1128.8 L1536.7,1124.6 L1540.0,1120.3 L1543.2,1116.1 L1546.5,1111.8 L1549.7,1107.5 L1552.9,1103.2 L1556.2,1098.9 L1559.4,1094.5 L1562.7,1090.1 L1565.9,1085.7 L1569.2,1081.3 L1572.4,1076.8 L1575.7,1072.4 L1578.9,1067.9 L1582.2,1063.4 L1585.4,1058.8 L1588.7,1054.3 L1591.9,1049.7 L1595.2,1045.1 L1598.4,1040.5 L1601.6,1035.9 L1604.9,1031.2 L1608.1,1026.5 L1611.4,1021.8 L1614.6,1017.1 L1617.9,1012.4 L1621.1,1007.6 L1624.4,1002.9 L1627.6,998.1 L1630.9,993.3 L1634.1,988.4 L1637.4,983.6 L1640.6,978.7 L1643.9,973.8 L1647.1,968.9 L1650.4,964.0 L1653.6,959.1 L1656.8,954.1 L1660.1,949.2 L1663.3,944.2 L1666.6,939.2 L1669.8,934.2 L1673.1,929.1 L1676.3,924.1 L1679.6,919.0 L1682.8,913.9 L1686.1,908.8 L1689.3,903.7 L1692.6,898.6 L1695.8,893.4 L1699.1,888.3 L1702.3,883.1 L1705.5,877.9 L1708.8,872.7 L1712.0,867.5 L1715.3,862.3 L1718.5,857.0 L1721.8,851.8 L1725.0,846.5 L1728.3,841.2 L1731.5,836.0 L1734.8,830.6 L1738.0,825.3 L1741.3,820.0 L1744.5,814.7 L1747.8,809.3 L1751.0,803.9 L1754.2,798.6 L1757.5,793.2 L1760.7,787.8 L1764.0,782.4 L1767.2,777.0 L1770.5,771.5 L1773.7,766.1 L1777.0,760.6 L1780.2,755.2 L1783.5,749.7 L1786.7,744.2 L1790.0,738.8 L1793.2,733.3 L1796.5,727.8 L1799.7,722.2 L1803.0,716.7 L1806.2,711.2 L1809.4,705.7 L1812.7,700.1 L1815.9,694.6 L1819.2,689.0 L1822.4,683.5 L1825.7,677.9 L1828.9,672.3 L1832.2,666.7 L1835.4,661.1 L1838.7,655.5 L1841.9,649.9 L1845.2,644.3 L1848.4,638.7 L1851.7,633.1 L1854.9,627.5 L1858.1,621.9 L1861.4,616.2 L1864.6,610.6 L1867.9,604.9 L1871.1,599.3 L1874.4,593.7 L1877.6,588.0 L1880.9,582.4 L1884.1,576.7 L1887.4,571.0 L1890.6,565.4 L1893.9,559.7 L1897.1,554.1 L1900.4,548.4 L1903.6,542.7 L1906.9,537.0 L1910.1,531.4 L1913.3,525.7 L1916.6,520.0 L1919.8,514.4 L1923.1,508.7 L1926.3,503.0 L1929.6,497.3 L1932.8,491.7 L1936.1,486.0 L1939.3,480.3 L1942.6,474.6 L1945.8,469.0 L1949.1,463.3 L1952.3,457.6 L1955.6,452.0 L1958.8,446.3 L1962.0,440.6 L1965.3,435.0 L1968.5,429.3 L1971.8,423.6 L1975.0,418.0 L1978.3,412.3 L1981.5,406.7 L1984.8,401.0 L1988.0,395.4 L1991.3,389.8 L1994.5,384.1 L1997.8,378.5 L2001.0,372.9 L2004.3,367.3 L2007.5,361.7 L2010.7,356.0 L2014.0,350.4 L2017.2,344.8 L2020.5,339.2 L2023.7,333.7 L2027.0,328.1 L2030.2,322.5 L2033.5,316.9 L2036.7,311.4 L2040.0,305.8 L2043.2,300.3 L2046.5,294.7 L2049.7,289.2 L2053.0,283.7 L2056.2,278.2 L2059.5,272.6 L2062.7,267.1 L2065.9,261.6 L2069.2,256.2 L2072.4,250.7 L2075.7,245.2 L2078.9,239.8 L2082.2,234.3 L2085.4,228.9 L2088.7,223.4 L2091.9,218.0 L2095.2,212.6 L2098.4,207.2 L2101.7,201.8 L2104.9,196.4 L2108.2,191.1 L2111.4,185.7 L2114.6,180.4 L2117.9,175.0 L2121.1,169.7 L2124.4,164.4 L2127.6,159.1 L2130.9,153.8 L2134.1,148.5 L2137.4,143.2 L2140.6,138.0 L2143.9,132.8 L2147.1,127.5 L2150.4,122.3 L2153.6,117.1 L2156.9,111.9 L2160.1,106.7 L2163.4,101.6 L2166.6,96.4 L2169.8,91.3 L2173.1,86.2 L2176.3,81.1 L2179.6,76.0 L2182.8,70.9 L2186.1,65.8 L2189.3,60.8 L2192.6,55.7 L2195.8,50.7 L2199.1,45.7 L2202.3,40.7 L2205.6,35.8 L2208.8,30.8 L2212.1,25.9"/>
<path stroke="#ff0000" d="M267.2,506.2 L270.4,511.8 L273.7,517.5 L276.9,523.1 L280.2,528.8 L283.4,534.4 L286.7,540.1 L289.9,545.7 L293.2,551.4 L296.4,557.1 L299.7,562.7 L302.9,568.4 L306.2,574.0 L309.4,579.7 L312.7,585.3 L315.9,591.0 L319.1,596.6 L322.4,602.3 L325.6,607.9 L328.9,613.6 L332.1,619.2 L335.4,624.9 L338.6,630.5 L341.9,636.1 L345.1,641.8 L348.4,647.4 L351.6,653.0 L354.9,658.6 L358.1,664.2 L361.4,669.9 L364.6,675.5 L367.9,681.1 L371.1,686.6 L374.3,692.2 L377.6,697.8 L380.8,703.4 L384.1,709.0 L387.3,714.5 L390.6,720.1 L393.8,725.6 L397.1,731.1 L400.3,736.7 L403.6,742.2 L406.8,747.7 L410.1,753.2 L413.3,758.7 L416.6,764.2 L419.8,769.7 L423.0,775.2 L426.3,780.6 L429.5,786.1 L432.8,791.5 L436.0,796.9 L439.3,802.4 L442.5,807.8 L445.8,813.2 L449.0,818.6 L452.3,823.9 L455.5,829.3 L458.8,834.6 L462.0,840.0 L465.3,845.3 L468.5,850.6 L471.8,855.9 L475.0,861.2 L478.2,866.5 L481.5,871.8 L484.7,877.0 L488.0,882.2 L491.2,887.5 L494.5,892.7 L497.7,897.9 L501.0,903.0 L504.2,908.2 L507.5,913.4 L510.7,918.5 L514.0,923.6 L517.2,928.7 L520.5,933.8 L523.7,938.9 L526.9,943.9 L530.2,948.9 L533.4,954.0 L536.7,959.0 L539.9,963.9 L543.2,968.9 L546.4,973.9 L549.7,978.8 L552.9,983.7 L556.2,988.6 L559.4,993.5 L562.7,998.3 L565.9,1003.2 L569.2,1008.0 L572.4,1012.8 L575.6,1017.6 L578.9,1022.3 L582.1,1027.1 L585.4,1031.8 L588.6,1036.5 L591.9,1041.2 L595.1,1045.9 L598.4,1050.5 L601.6,1055.1 L604.9,1059.7 L608.1,1064.3 L611.4,1068.8 L614.6,1073.4 L617.9,1077.9 L621.1,1082.4 L624.4,1086.8 L627.6,1091.3 L630.8,1095.7 L634.1,1100.1 L637.3,1104.5 L640.6,1108.8 L643.8,1113.2 L647.1,1117.5 L650.3,1121.8 L653.6,1126.0 L656.8,1130.3 L660.1,1134.5 L663.3,1138.7 L666.6,1142.8 L669.8,1147.0 L673.1,1151.1 L676.3,1155.2 L679.5,1159.2 L682.8,1163.3 L686.0,1167.3 L689.3,1171.3 L692.5,1175.2 L695.8,1179.2 L699.0,1183.1 L702.3,1186.9 L705.5,1190.8 L708.8,1194.6 L712.0,1198.4 L715.3,1202.2 L718.5,1206.0 L721.8,1209.7 L725.0,1213.4 L728.3,1217.0 L731.5,1220.7 L734.7,1224.3 L738.0,1227.9 L741.2,1231.4 L744.5,1235.0 L747.7,1238.5 L751.0,1241.9 L754.2,1245.4 L757.5,1248.8 L760.7,1252.2 L764.0,1255.5 L767.2,1258.9 L770.5,1262.2 L773.7,1265.4 L777.0,1268.7 L780.2,1271.9 L783.4,1275.1 L786.7,1278.2 L789.9,1281.3 L793.2,1284.4 L796.4,1287.5 L799.7,1290.5 L802.9,1293.5 L806.2,1296.5 L809.4,1299.4 L812.7,1302.3 L815.9,1305.2 L819.2,1308.1 L822.4,1310.9 L825.7,1313.7 L828.9,1316.4 L832.1,1319.1 L835.4,1321.8 L838.6,1324.5 L841.9,1327.1 L845.1,1329.7 L848.4,1332.3 L851.6,1334.8 L854.9,1337.3 L858.1,1339.8 L861.4,1342.2 L864.6,1344.6 L867.9,1347.0 L871.1,1349.3 L874.4,1351.6 L877.6,1353.9 L880.9,1356.1 L884.1,1358.3 L887.3,1360.5 L890.6,1362.7 L893.8,1364.8 L897.1,1366.8 L900.3,1368.9 L903.6,1370.9 L906.8,1372.9 L910.1,1374.8 L913.3,1376.7 L916.6,1378.6 L919.8,1380.4 L923.1,1382.2 L926.3,1384.0 L929.6,1385.7 L932.8,1387.4 L936.0,1389.1 L939.3,1390.7 L942.5,1392.3 L945.8,1393.9 L949.0,1395.4 L952.3,1396.9 L955.5,1398.4 L958.8,1399.8 L962.0,1401.2 L965.3,1402.6 L968.5,1403.9 L971.8,1405.2 L975.0,1406.5 L978.3,1407.7 L981.5,1408.9 L984.8,1410.0 L988.0,1411.1 L991.2,1412.2 L994.5,1413.3 L997.7,1414.3 L1001.0,1415.3 L1004.2,1416.2 L1007.5,1417.1 L1010.7,1418.0 L1014.0,1418.8 L1017.2,1419.6 L1020.5,1420.4 L1023.7,1421.1 L1027.0,1421.8 L1030.2,1422.5 L1033.5,1423.1 L1036.7,1423.7 L1039.9,1424.2 L1043.2,1424.8 L1046.4,1425.3 L1049.7,1425.7 L1052.9,1426.1 L1056.2,1426.5 L1059.4,1426.8 L1062.7,1427.1 L1065.9,1427.4 L1069.2,1427.6 L1072.4,1427.8 L1075.7,1428.0 L1078.9,1428.1 L1082.2,1428.2 L1085.4,1428.3 L1088.6,1428.3 L1091.9,1428.3 L1095.1,1428.3 L1098.4,1428.2 L1101.6,1428.0 L1104.9,1427.9 L1108.1,1427.7 L1111.4,1427.5 L1114.6,1427.2 L1117.9,1426.9 L1121.1,1426.6 L1124.4,1426.2 L1127.6,1425.8 L1130.9,1425.4 L1134.1,1424.9 L1137.4,1424.4 L1140.6,1423.8 L1143.8,1423.3 L1147.1,1422.7 L1150.3,1422.0 L1153.6,1421.3 L1156.8,1420.6 L1160.1,1419.8 L1163.3,1419.1 L1166.6,1418.2 L1169.8,1417.4 L1173.1,1416.5 L1176.3,1415.5 L1179.6,1414.6 L1182.8,1413.6 L1186.1,1412.5 L1189.3,1411.5 L1192.5,1410.4 L1195.8,1409.2 L1199.0,1408.0 L1202.3,1406.8 L1205.5,1405.6 L1208.8,1404.3 L1212.0,1403.0 L1215.3,1401.6 L1218.5,1400.3 L1221.8,1398.8 L1225.0,1397.4 L1228.3,1395.9 L1231.5,1394.4 L1234.8,1392.8 L1238.0,1391.2 L1241.2,1389.6 L1244.5,1388.0 L1247.7,1386.3 L1251.0,1384.6 L1254.2,1382.8 L1257.5,1381.0 L1260.7,1379.2 L1264.0,1377.3 L1267.2,1375.4 L1270.5,1373.5 L1273.7,1371.6 L1277.0,1369.6 L1280.2,1367.5 L1283.5,1365.5 L1286.7,1363.4 L1290.0,1361.3 L1293.2,1359.1 L1296.4,1356.9 L1299.7,1354.7 L1302.9,1352.4 L1306.2,1350.2 L1309.4,1347.8 L1312.7,1345.5 L1315.9,1343.1 L1319.2,1340.7 L1322.4,1338.2 L1325.7,1335.8 L1328.9,1333.2 L1332.2,1330.7 L1335.4,1328.1 L1338.7,1325.5 L1341.9,1322.9 L1345.1,1320.2 L1348.4,1317.5 L1351.6,1314.8 L1354.9,1312.0 L1358.1,1309.2 L1361.4,1306.4 L1364.6,1303.5 L1367.9,1300.7 L1371.1,1297.7 L1374.4,1294.8 L1377.6,1291.8 L1380.9,1288.8 L1384.1,1285.8 L1387.4,1282.7 L1390.6,1279.6 L1393.9,1276.5 L1397.1,1273.3 L1400.3,1270.1 L1403.6,1266.9 L1406.8,1263.7 L1410.1,1260.4 L1413.3,1257.1 L1416.6,1253.8 L1419.8,1250.4 L1423.1,1247.0 L1426.3,1243.6 L1429.6,1240.2 L1432.8,1236.7 L1436.1,1233.2 L1439.3,1229.7 L1442.6,1226.1 L1445.8,1222.5 L1449.0,1218.9 L1452.3,1215.3 L1455.5,1211.6 L1458.8,1207.9 L1462.0,1204.2 L1465.3,1200.4 L1468.5,1196.6 L1471.8,1192.8 L1475.0,1189.0 L1478.3,1185.2 L1481.5,1181.3 L1484.8,1177.4 L1488.0,1173.4 L1491.3,1169.5 L1494.5,1165.5 L1497.7,1161.5 L1501.0,1157.5 L1504.2,1153.4 L1507.5,1149.3 L1510.7,1145.2 L1514.0,1141.1 L1517.2,1136.9 L1520.5,1132.7 L1523.7,1128.5 L1527.0,1124.3 L1530.2,1120.1 L1533.5,1115.8 L1536.7,1111.5 L1540.0,1107.2 L1543.2,1102.8 L1546.5,1098.4 L1549.7,1094.0 L1552.9,1089.6 L1556.2,1085.2 L1559.4,1080.7 L1562.7,1076.2 L1565.9,1071.7 L1569.2,1067.2 L1572.4,1062.7 L1575.7,1058.1 L1578.9,1053.5 L1582.2,1048.9 L1585.4,1044.3 L1588.7,1039.6 L1591.9,1034.9 L1595.2,1030.2 L1598.4,1025.5 L1601.6,1020.8 L1604.9,1016.0 L1608.1,1011.3 L1611.4,1006.5 L1614.6,1001.7 L1617.9,996.8 L1621.1,992.0 L1624.4,987.1 L1627.6,982.2 L1630.9,977.3 L1634.1,972.4 L1637.4,967.5 L1640.6,962.5 L1643.9,957.5 L1647.1,952.5 L1650.4,947.5 L1653.6,942.5 L1656.8,937.4 L1660.1,932.4 L1663.3,927.3 L1666.6,922.2 L1669.8,917.1 L1673.1,912.0 L1676.3,906.8 L1679.6,901.7 L1682.8,896.5 L1686.1,891.3 L1689.3,886.1 L1692.6,880.9 L1695.8,875.6 L1699.1,870.4 L1702.3,865.1 L1705.5,859.9 L1708.8,854.6 L1712.0,849.3 L1715.3,843.9 L1718.5,838.6 L1721.8,833.3 L1725.0,827.9 L1728.3,822.5 L1731.5,817.2 L1734.8,811.8 L1738.0,806.4 L1741.3,801.0 L1744.5,795.5 L1747.8,790.1 L1751.0,784.6 L1754.2,779.2 L1757.5,773.7 L1760.7,768.2 L1764.0,762.7 L1767.2,757.2 L1770.5,751.7 L1773.7,746.2 L1777.0,740.7 L1780.2,735.1 L1783.5,729.6 L1786.7,724.0 L1790.0,718.5 L1793.2,712.9 L1796.5,707.3 L1799.7,701.7 L1803.0,696.1 L1806.2,690.5 L1809.4,684.9 L1812.7,679.3 L1815.9,673.6 L1819.2,668.0 L1822.4,662.4 L1825.7,656.7 L1828.9,651.1 L1832.2,645.4 L1835.4,639.7 L1838.7,634.1 L1841.9,628.4 L1845.2,622.7 L1848.4,617.0 L1851.7,611.3 L1854.9,605.7 L1858.1,600.0 L1861.4,594.3 L1864.6,588.5 L1867.9,582.8 L1871.1,577.1 L1874.4,571.4 L1877.6,565.7 L1880.9,560.0 L1884.1,554.2 L1887.4,548.5 L1890.6,542.8 L1893.9,537.1 L1897.1,531.3 L1900.4,525.6 L1903.6,519.9 L1906.9,514.1 L1910.1,508.4 L1913.3,502.7 L1916.6,496.9 L1919.8,491.2 L1923.1,485.5 L1926.3,479.7 L1929.6,474.0 L1932.8,468.3 L1936.1,462.5 L1939.3,456.8 L1942.6,451.1 L1945.8,445.3 L1949.1,439.6 L1952.3,433.9 L1955.6,428.2 L1958.8,422.4 L1962.0,416.7 L1965.3,411.0 L1968.5,405.3 L1971.8,399.6 L1975.0,393.9 L1978.3,388.2 L1981.5,382.5 L1984.8,376.8 L1988.0,371.1 L1991.3,365.4 L1994.5,359.8 L1997.8,354.1 L2001.0,348.4 L2004.3,342.8 L2007.5,337.1 L2010.7,331.4 L2014.0,325.8 L2017.2,320.2 L2020.5,314.5 L2023.7,308.9 L2027.0,303.3 L2030.2,297.7 L2033.5,292.1 L2036.7,286.5 L2040.0,280.9 L2043.2,275.3 L2046.5,269.7 L2049.7,264.2 L2053.0,258.6 L2056.2,253.1 L2059.5,247.5 L2062.7,242.0 L2065.9,236.5 L2069.2,231.0 L2072.4,225.5 L2075.7,220.0 L2078.9,214.5 L2082.2,209.0 L2085.4,203.6 L2088.7,198.1 L2091.9,192.7 L2095.2,187.2 L2098.4,181.8 L2101.7,176.4 L2104.9,171.0 L2108.2,165.6 L2111.4,160.3 L2114.6,154.9 L2117.9,149.6 L2121.1,144.2 L2124.4,138.9 L2127.6,133.6 L2130.9,128.3 L2134.1,123.0 L2137.4,117.8 L2140.6,112.5 L2143.9,107.3 L2147.1,102.0 L2150.4,96.8 L2153.6,91.6 L2156.9,86.4 L2160.1,81.3 L2163.4,76.1 L2166.6,71.0 L2169.8,65.9 L2173.1,60.7 L2176.3,55.7 L2179.6,50.6 L2182.8,45.5 L2186.1,40.5 L2189.3,35.4 L2192.6,30.4"/>
<path stroke="#000000" d="M267.2,739.0 L270.4,743.6 L273.7,748.2 L276.9,752.8 L280.2,757.4 L283.4,762.1 L286.7,766.7 L289.9,771.3 L293.2,776.0 L296.4,780.6 L299.7,785.3 L302.9,789.9 L306.2,794.6 L309.4,799.2 L312.7,803.9 L315.9,808.5 L319.1,813.2 L322.4,817.8 L325.6,822.5 L328.9,827.1 L332.1,831.8 L335.4,836.4 L338.6,841.0 L341.9,845.7 L345.1,850.3 L348.4,854.9 L351.6,859.5 L354.9,864.1 L358.1,868.8 L361.4,873.4 L364.6,878.0 L367.9,882.5 L371.1,887.1 L374.3,891.7 L377.6,896.3 L380.8,900.8 L384.1,905.4 L387.3,909.9 L390.6,914.5 L393.8,919.0 L397.1,923.5 L400.3,928.0 L403.6,932.5 L406.8,937.0 L410.1,941.4 L413.3,945.9 L416.6,950.3 L419.8,954.8 L423.0,959.2 L426.3,963.6 L429.5,968.0 L432.8,972.4 L436.0,976.8 L439.3,981.1 L442.5,985.4 L445.8,989.8 L449.0,994.1 L452.3,998.4 L455.5,1002.6 L458.8,1006.9 L462.0,1011.1 L465.3,1015.4 L468.5,1019.6 L471.8,1023.8 L475.0,1028.0 L478.2,1032.1 L481.5,1036.3 L484.7,1040.4 L488.0,1044.5 L491.2,1048.6 L494.5,1052.6 L497.7,1056.7 L501.0,1060.7 L504.2,1064.7 L507.5,1068.7 L510.7,1072.6 L514.0,1076.6 L517.2,1080.5 L520.5,1084.4 L523.7,1088.3 L526.9,1092.1 L530.2,1096.0 L533.4,1099.8 L536.7,1103.6 L539.9,1107.3 L543.2,1111.1 L546.4,1114.8 L549.7,1118.5 L552.9,1122.2 L556.2,1125.8 L559.4,1129.5 L562.7,1133.1 L565.9,1136.6 L569.2,1140.2 L572.4,1143.7 L575.6,1147.2 L578.9,1150.7 L582.1,1154.1 L585.4,1157.6 L588.6,1161.0 L591.9,1164.3 L595.1,1167.7 L598.4,1171.0 L601.6,1174.3 L604.9,1177.5 L608.1,1180.8 L611.4,1184.0 L614.6,1187.2 L617.9,1190.3 L621.1,1193.5 L624.4,1196.6 L627.6,1199.6 L630.8,1202.7 L634.1,1205.7 L637.3,1208.7 L640.6,1211.6 L643.8,1214.6 L647.1,1217.5 L650.3,1220.3 L653.6,1223.2 L656.8,1226.0 L660.1,1228.8 L663.3,1231.5 L666.6,1234.2 L669.8,1236.9 L673.1,1239.6 L676.3,1242.2 L679.5,1244.8 L682.8,1247.4 L686.0,1249.9 L689.3,1252.4 L692.5,1254.9 L695.8,1257.3 L699.0,1259.7 L702.3,1262.1 L705.5,1264.5 L708.8,1266.8 L712.0,1269.1 L715.3,1271.3 L718.5,1273.5 L721.8,1275.7 L725.0,1277.9 L728.3,1280.0 L731.5,1282.1 L734.7,1284.2 L738.0,1286.2 L741.2,1288.2 L744.5,1290.1 L747.7,1292.1 L751.0,1294.0 L754.2,1295.8 L757.5,1297.7 L760.7,1299.5 L764.0,1301.2 L767.2,1302.9 L770.5,1304.6 L773.7,1306.3 L777.0,1307.9 L780.2,1309.5 L783.4,1311.1 L786.7,1312.6 L789.9,1314.1 L793.2,1315.6 L796.4,1317.0 L799.7,1318.4 L802.9,1319.7 L806.2,1321.1 L809.4,1322.4 L812.7,1323.6 L815.9,1324.8 L819.2,1326.0 L822.4,1327.2 L825.7,1328.3 L828.9,1329.4 L832.1,1330.4 L835.4,1331.4 L838.6,1332.4 L841.9,1333.4 L845.1,1334.3 L848.4,1335.2 L851.6,1336.0 L854.9,1336.8 L858.1,1337.6 L861.4,1338.3 L864.6,1339.0 L867.9,1339.7 L871.1,1340.3 L874.4,1340.9 L877.6,1341.5 L880.9,1342.0 L884.1,1342.5 L887.3,1343.0 L890.6,1343.4 L893.8,1343.8 L897.1,1344.1 L900.3,1344.5 L903.6,1344.8 L906.8,1345.0 L910.1,1345.2 L913.3,1345.4 L916.6,1345.5 L919.8,1345.7 L923.1,1345.7 L926.3,1345.8 L929.6,1345.8 L932.8,1345.8 L936.0,1345.7 L939.3,1345.6 L942.5,1345.5 L945.8,1345.3 L949.0,1345.1 L952.3,1344.9 L955.5,1344.6 L958.8,1344.3 L962.0,1344.0 L965.3,1343.6 L968.5,1343.2 L971.8,1342.8 L975.0,1342.3 L978.3,1341.8 L981.5,1341.2 L984.8,1340.7 L988.0,1340.1 L991.2,1339.4 L994.5,1338.7 L997.7,1338.0 L1001.0,1337.3 L1004.2,1336.5 L1007.5,1335.7 L1010.7,1334.8 L1014.0,1334.0 L1017.2,1333.0 L1020.5,1332.1 L1023.7,1331.1 L1027.0,1330.1 L1030.2,1329.0 L1033.5,1328.0 L1036.7,1326.8 L1039.9,1325.7 L1043.2,1324.5 L1046.4,1323.3 L1049.7,1322.1 L1052.9,1320.8 L1056.2,1319.5 L1059.4,1318.1 L1062.7,1316.7 L1065.9,1315.3 L1069.2,1313.9 L1072.4,1312.4 L1075.7,1310.9 L1078.9,1309.4 L1082.2,1307.8 L1085.4,1306.2 L1088.6,1304.6 L1091.9,1302.9 L1095.1,1301.2 L1098.4,1299.5 L1101.6,1297.7 L1104.9,1295.9 L1108.1,1294.1 L1111.4,1292.2 L1114.6,1290.3 L1117.9,1288.4 L1121.1,1286.5 L1124.4,1284.5 L1127.6,1282.5 L1130.9,1280.4 L1134.1,1278.4 L1137.4,1276.3 L1140.6,1274.1 L1143.8,1272.0 L1147.1,1269.8 L1150.3,1267.5 L1153.6,1265.3 L1156.8,1263.0 L1160.1,1260.7 L1163.3,1258.3 L1166.6,1256.0 L1169.8,1253.6 L1173.1,1251.1 L1176.3,1248.7 L1179.6,1246.2 L1182.8,1243.7 L1186.1,1241.1 L1189.3,1238.6 L1192.5,1235.9 L1195.8,1233.3 L1199.0,1230.7 L1202.3,1228.0 L1205.5,1225.2 L1208.8,1222.5 L1212.0,1219.7 L1215.3,1216.9 L1218.5,1214.1 L1221.8,1211.2 L1225.0,1208.4 L1228.3,1205.5 L1231.5,1202.5 L1234.8,1199.6 L1238.0,1196.6 L1241.2,1193.6 L1244.5,1190.5 L1247.7,1187.4 L1251.0,1184.3 L1254.2,1181.2 L1257.5,1178.1 L1260.7,1174.9 L1264.0,1171.7 L1267.2,1168.5 L1270.5,1165.2 L1273.7,1162.0 L1277.0,1158.7 L1280.2,1155.3 L1283.5,1152.0 L1286.7,1148.6 L1290.0,1145.2 L1293.2,1141.8 L1296.4,1138.3 L1299.7,1134.9 L1302.9,1131.4 L1306.2,1127.9 L1309.4,1124.3 L1312.7,1120.8 L1315.9,1117.2 L1319.2,1113.6 L1322.4,1109.9 L1325.7,1106.3 L1328.9,1102.6 L1332.2,1098.9 L1335.4,1095.2 L1338.7,1091.4 L1341.9,1087.6 L1345.1,1083.9 L1348.4,1080.0 L1351.6,1076.2 L1354.9,1072.4 L1358.1,1068.5 L1361.4,1064.6 L1364.6,1060.7 L1367.9,1056.7 L1371.1,1052.8 L1374.4,1048.8 L1377.6,1044.8 L1380.9,1040.8 L1384.1,1036.7 L1387.4,1032.7 L1390.6,1028.6 L1393.9,1024.5 L1397.1,1020.4 L1400.3,1016.2 L1403.6,1012.1 L1406.8,1007.9 L1410.1,1003.7 L1413.3,999.5 L1416.6,995.3 L1419.8,991.0 L1423.1,986.8 L1426.3,982.5 L1429.6,978.2 L1432.8,973.9 L1436.1,969.5 L1439.3,965.2 L1442.6,960.8 L1445.8,956.4 L1449.0,952.0 L1452.3,947.6 L1455.5,943.1 L1458.8,938.7 L1462.0,934.2 L1465.3,929.7 L1468.5,925.2 L1471.8,920.7 L1475.0,916.2 L1478.3,911.6 L1481.5,907.1 L1484.8,902.5 L1488.0,897.9 L1491.3,893.3 L1494.5,888.7 L1497.7,884.1 L1501.0,879.4 L1504.2,874.8 L1507.5,870.1 L1510.7,865.4 L1514.0,860.7 L1517.2,856.0 L1520.5,851.3 L1523.7,846.5 L1527.0,841.8 L1530.2,837.0 L1533.5,832.2 L1536.7,827.4 L1540.0,822.6 L1543.2,817.8 L1546.5,813.0 L1549.7,808.2 L1552.9,803.3 L1556.2,798.5 L1559.4,793.6 L1562.7,788.7 L1565.9,783.8 L1569.2,778.9 L1572.4,774.0 L1575.7,769.1 L1578.9,764.1 L1582.2,759.2 L1585.4,754.3 L1588.7,749.3 L1591.9,744.3 L1595.2,739.4 L1598.4,734.4 L1601.6,729.4 L1604.9,724.4 L1608.1,719.4 L1611.4,714.3 L1614.6,709.3 L1617.9,704.3 L1621.1,699.2 L1624.4,694.2 L1627.6,689.1 L1630.9,684.0 L1634.1,679.0 L1637.4,673.9 L1640.6,668.8 L1643.9,663.7 L1647.1,658.6 L1650.4,653.5 L1653.6,648.4 L1656.8,643.3 L1660.1,638.2 L1663.3,633.0 L1666.6,627.9 L1669.8,622.7 L1673.1,617.6 L1676.3,612.4 L1679.6,607.3 L1682.8,602.1 L1686.1,597.0 L1689.3,591.8 L1692.6,586.6 L1695.8,581.4 L1699.1,576.3 L1702.3,571.1 L1705.5,565.9 L1708.8,560.7 L1712.0,555.5 L1715.3,550.3 L1718.5,545.1 L1721.8,539.9 L1725.0,534.7 L1728.3,529.5 L1731.5,524.2 L1734.8,519.0 L1738.0,513.8 L1741.3,508.6 L1744.5,503.4 L1747.8,498.1 L1751.0,492.9 L1754.2,487.7 L1757.5,482.4 L1760.7,477.2 L1764.0,472.0 L1767.2,466.8 L1770.5,461.5 L1773.7,456.3 L1777.0,451.0 L1780.2,445.8 L1783.5,440.6 L1786.7,435.3 L1790.0,430.1 L1793.2,424.9 L1796.5,419.6 L1799.7,414.4 L1803.0,409.2 L1806.2,403.9 L1809.4,398.7 L1812.7,393.4 L1815.9,388.2 L1819.2,383.0 L1822.4,377.8 L1825.7,372.5 L1828.9,367.3 L1832.2,362.1 L1835.4,356.8 L1838.7,351.6 L1841.9,346.4 L1845.2,341.2 L1848.4,336.0 L1851.7,330.7 L1854.9,325.5 L1858.1,320.3 L1861.4,315.1 L1864.6,309.9 L1867.9,304.7 L1871.1,299.5 L1874.4,294.3 L1877.6,289.1 L1880.9,283.9 L1884.1,278.7 L1887.4,273.5 L1890.6,268.4 L1893.9,263.2 L1897.1,258.0 L1900.4,252.8 L1903.6,247.7 L1906.9,242.5 L1910.1,237.3 L1913.3,232.2 L1916.6,227.0 L1919.8,221.9 L1923.1,216.7 L1926.3,211.6 L1929.6,206.5 L1932.8,201.3 L1936.1,196.2 L1939.3,191.1 L1942.6,186.0 L1945.8,180.8 L1949.1,175.7 L1952.3,170.6 L1955.6,165.5 L1958.8,160.4 L1962.0,155.4 L1965.3,150.3 L1968.5,145.2 L1971.8,140.1 L1975.0,135.1 L1978.3,130.0 L1981.5,124.9 L1984.8,119.9 L1988.0,114.8 L1991.3,109.8 L1994.5,104.8 L1997.8,99.7 L2001.0,94.7 L2004.3,89.7 L2007.5,84.7 L2010.7,79.7 L2014.0,74.7 L2017.2,69.7 L2020.5,64.7 L2023.7,59.7 L2027.0,54.7 L2030.2,49.7 L2033.5,44.8 L2036.7,39.8 L2040.0,34.9 L2043.2,29.9"/>
<path stroke="#00ff00" d="M267.2,741.5 L270.4,746.2 L273.7,750.9 L276.9,755.7 L280.2,760.4 L283.4,765.1 L286.7,769.8 L289.9,774.5 L293.2,779.3 L296.4,784.0 L299.7,788.7 L302.9,793.4 L306.2,798.1 L309.4,802.8 L312.7,807.5 L315.9,812.2 L319.1,816.9 L322.4,821.6 L325.6,826.3 L328.9,831.0 L332.1,835.7 L335.4,840.3 L338.6,845.0 L341.9,849.7 L345.1,854.3 L348.4,859.0 L351.6,863.6 L354.9,868.2 L358.1,872.9 L361.4,877.5 L364.6,882.1 L367.9,886.7 L371.1,891.2 L374.3,895.8 L377.6,900.4 L380.8,904.9 L384.1,909.5 L387.3,914.0 L390.6,918.5 L393.8,923.0 L397.1,927.5 L400.3,932.0 L403.6,936.4 L406.8,940.9 L410.1,945.3 L413.3,949.7 L416.6,954.1 L419.8,958.5 L423.0,962.9 L426.3,967.2 L429.5,971.5 L432.8,975.9 L436.0,980.2 L439.3,984.4 L442.5,988.7 L445.8,993.0 L449.0,997.2 L452.3,1001.4 L455.5,1005.6 L458.8,1009.8 L462.0,1013.9 L465.3,1018.1 L468.5,1022.2 L471.8,1026.3 L475.0,1030.3 L478.2,1034.4 L481.5,1038.4 L484.7,1042.4 L488.0,1046.4 L491.2,1050.4 L494.5,1054.3 L497.7,1058.2 L501.0,1062.1 L504.2,1066.0 L507.5,1069.8 L510.7,1073.6 L514.0,1077.4 L517.2,1081.2 L520.5,1085.0 L523.7,1088.7 L526.9,1092.4 L530.2,1096.1 L533.4,1099.7 L536.7,1103.3 L539.9,1106.9 L543.2,1110.5 L546.4,1114.0 L549.7,1117.6 L552.9,1121.0 L556.2,1124.5 L559.4,1127.9 L562.7,1131.3 L565.9,1134.7 L569.2,1138.1 L572.4,1141.4 L575.6,1144.7 L578.9,1147.9 L582.1,1151.2 L585.4,1154.4 L588.6,1157.6 L591.9,1160.7 L595.1,1163.8 L598.4,1166.9 L601.6,1170.0 L604.9,1173.0 L608.1,1176.0 L611.4,1178.9 L614.6,1181.9 L617.9,1184.8 L621.1,1187.6 L624.4,1190.5 L627.6,1193.3 L630.8,1196.1 L634.1,1198.8 L637.3,1201.5 L640.6,1204.2 L643.8,1206.8 L647.1,1209.4 L650.3,1212.0 L653.6,1214.6 L656.8,1217.1 L660.1,1219.6 L663.3,1222.0 L666.6,1224.4 L669.8,1226.8 L673.1,1229.1 L676.3,1231.5 L679.5,1233.7 L682.8,1236.0 L686.0,1238.2 L689.3,1240.4 L692.5,1242.5 L695.8,1244.6 L699.0,1246.7 L702.3,1248.7 L705.5,1250.7 L708.8,1252.7 L712.0,1254.6 L715.3,1256.5 L718.5,1258.3 L721.8,1260.2 L725.0,1261.9 L728.3,1263.7 L731.5,1265.4 L734.7,1267.1 L738.0,1268.7 L741.2,1270.3 L744.5,1271.9 L747.7,1273.4 L751.0,1274.9 L754.2,1276.4 L757.5,1277.8 L760.7,1279.2 L764.0,1280.5 L767.2,1281.9 L770.5,1283.1 L773.7,1284.4 L777.0,1285.6 L780.2,1286.7 L783.4,1287.9 L786.7,1288.9 L789.9,1290.0 L793.2,1291.0 L796.4,1292.0 L799.7,1292.9 L802.9,1293.8 L806.2,1294.7 L809.4,1295.5 L812.7,1296.3 L815.9,1297.1 L819.2,1297.8 L822.4,1298.5 L825.7,1299.1 L828.9,1299.7 L832.1,1300.3 L835.4,1300.8 L838.6,1301.3 L841.9,1301.7 L845.1,1302.1 L848.4,1302.5 L851.6,1302.8 L854.9,1303.1 L858.1,1303.4 L861.4,1303.6 L864.6,1303.8 L867.9,1303.9 L871.1,1304.0 L874.4,1304.1 L877.6,1304.1 L880.9,1304.1 L884.1,1304.1 L887.3,1304.0 L890.6,1303.9 L893.8,1303.7 L897.1,1303.5 L900.3,1303.3 L903.6,1303.0 L906.8,1302.7 L910.1,1302.4 L913.3,1302.0 L916.6,1301.6 L919.8,1301.1 L923.1,1300.6 L926.3,1300.1 L929.6,1299.5 L932.8,1298.9 L936.0,1298.2 L939.3,1297.5 L942.5,1296.8 L945.8,1296.1 L949.0,1295.3 L952.3,1294.4 L955.5,1293.5 L958.8,1292.6 L962.0,1291.7 L965.3,1290.7 L968.5,1289.7 L971.8,1288.6 L975.0,1287.5 L978.3,1286.4 L981.5,1285.2 L984.8,1284.0 L988.0,1282.8 L991.2,1281.5 L994.5,1280.2 L997.7,1278.8 L1001.0,1277.4 L1004.2,1276.0 L1007.5,1274.5 L1010.7,1273.0 L1014.0,1271.5 L1017.2,1269.9 L1020.5,1268.3 L1023.7,1266.7 L1027.0,1265.0 L1030.2,1263.3 L1033.5,1261.5 L1036.7,1259.8 L1039.9,1257.9 L1043.2,1256.1 L1046.4,1254.2 L1049.7,1252.3 L1052.9,1250.3 L1056.2,1248.3 L1059.4,1246.3 L1062.7,1244.2 L1065.9,1242.1 L1069.2,1240.0 L1072.4,1237.8 L1075.7,1235.6 L1078.9,1233.4 L1082.2,1231.1 L1085.4,1228.8 L1088.6,1226.4 L1091.9,1224.1 L1095.1,1221.7 L1098.4,1219.2 L1101.6,1216.7 L1104.9,1214.2 L1108.1,1211.7 L1111.4,1209.1 L1114.6,1206.5 L1117.9,1203.9 L1121.1,1201.2 L1124.4,1198.5 L1127.6,1195.8 L1130.9,1193.0 L1134.1,1190.2 L1137.4,1187.3 L1140.6,1184.5 L1143.8,1181.6 L1147.1,1178.7 L1150.3,1175.7 L1153.6,1172.7 L1156.8,1169.7 L1160.1,1166.6 L1163.3,1163.6 L1166.6,1160.4 L1169.8,1157.3 L1173.1,1154.1 L1176.3,1150.9 L1179.6,1147.7 L1182.8,1144.4 L1186.1,1141.1 L1189.3,1137.8 L1192.5,1134.4 L1195.8,1131.1 L1199.0,1127.6 L1202.3,1124.2 L1205.5,1120.7 L1208.8,1117.2 L1212.0,1113.7 L1215.3,1110.1 L1218.5,1106.6 L1221.8,1102.9 L1225.0,1099.3 L1228.3,1095.6 L1231.5,1091.9 L1234.8,1088.2 L1238.0,1084.5 L1241.2,1080.7 L1244.5,1076.9 L1247.7,1073.1 L1251.0,1069.2 L1254.2,1065.3 L1257.5,1061.4 L1260.7,1057.5 L1264.0,1053.5 L1267.2,1049.5 L1270.5,1045.5 L1273.7,1041.5 L1277.0,1037.4 L1280.2,1033.3 L1283.5,1029.2 L1286.7,1025.1 L1290.0,1020.9 L1293.2,1016.7 L1296.4,1012.5 L1299.7,1008.3 L1302.9,1004.0 L1306.2,999.8 L1309.4,995.4 L1312.7,991.1 L1315.9,986.8 L1319.2,982.4 L1322.4,978.0 L1325.7,973.6 L1328.9,969.1 L1332.2,964.7 L1335.4,960.2 L1338.7,955.7 L1341.9,951.2 L1345.1,946.6 L1348.4,942.0 L1351.6,937.5 L1354.9,932.8 L1358.1,928.2 L1361.4,923.6 L1364.6,918.9 L1367.9,914.2 L1371.1,909.5 L1374.4,904.8 L1377.6,900.0 L1380.9,895.2 L1384.1,890.4 L1387.4,885.6 L1390.6,880.8 L1393.9,876.0 L1397.1,871.1 L1400.3,866.2 L1403.6,861.3 L1406.8,856.4 L1410.1,851.5 L1413.3,846.5 L1416.6,841.6 L1419.8,836.6 L1423.1,831.6 L1426.3,826.6 L1429.6,821.5 L1432.8,816.5 L1436.1,811.4 L1439.3,806.3 L1442.6,801.2 L1445.8,796.1 L1449.0,791.0 L1452.3,785.8 L1455.5,780.7 L1458.8,775.5 L1462.0,770.3 L1465.3,765.1 L1468.5,759.9 L1471.8,754.7 L1475.0,749.4 L1478.3,744.2 L1481.5,738.9 L1484.8,733.6 L1488.0,728.3 L1491.3,723.0 L1494.5,717.7 L1497.7,712.4 L1501.0,707.0 L1504.2,701.7 L1507.5,696.3 L1510.7,690.9 L1514.0,685.5 L1517.2,680.1 L1520.5,674.7 L1523.7,669.3 L1527.0,663.9 L1530.2,658.4 L1533.5,653.0 L1536.7,647.5 L1540.0,642.0 L1543.2,636.5 L1546.5,631.0 L1549.7,625.5 L1552.9,620.0 L1556.2,614.5 L1559.4,609.0 L1562.7,603.4 L1565.9,597.9 L1569.2,592.3 L1572.4,586.8 L1575.7,581.2 L1578.9,575.6 L1582.2,570.0 L1585.4,564.4 L1588.7,558.8 L1591.9,553.2 L1595.2,547.6 L1598.4,542.0 L1601.6,536.4 L1604.9,530.7 L1608.1,525.1 L1611.4,519.4 L1614.6,513.8 L1617.9,508.1 L1621.1,502.4 L1624.4,496.8 L1627.6,491.1 L1630.9,485.4 L1634.1,479.7 L1637.4,474.0 L1640.6,468.3 L1643.9,462.6 L1647.1,456.9 L1650.4,451.2 L1653.6,445.5 L1656.8,439.8 L1660.1,434.1 L1663.3,428.3 L1666.6,422.6 L1669.8,416.9 L1673.1,411.2 L1676.3,405.4 L1679.6,399.7 L1682.8,393.9 L1686.1,388.2 L1689.3,382.4 L1692.6,376.7 L1695.8,370.9 L1699.1,365.2 L1702.3,359.4 L1705.5,353.7 L1708.8,347.9 L1712.0,342.1 L1715.3,336.4 L1718.5,330.6 L1721.8,324.8 L1725.0,319.1 L1728.3,313.3 L1731.5,307.5 L1734.8,301.7 L1738.0,296.0 L1741.3,290.2 L1744.5,284.4 L1747.8,278.7 L1751.0,272.9 L1754.2,267.1 L1757.5,261.3 L1760.7,255.6 L1764.0,249.8 L1767.2,244.0 L1770.5,238.2 L1773.7,232.5 L1777.0,226.7 L1780.2,220.9 L1783.5,215.1 L1786.7,209.4 L1790.0,203.6 L1793.2,197.8 L1796.5,192.0 L1799.7,186.3 L1803.0,180.5 L1806.2,174.7 L1809.4,169.0 L1812.7,163.2 L1815.9,157.4 L1819.2,151.7 L1822.4,145.9 L1825.7,140.2 L1828.9,134.4 L1832.2,128.6 L1835.4,122.9 L1838.7,117.1 L1841.9,111.4 L1845.2,105.6 L1848.4,99.9 L1851.7,94.1 L1854.9,88.4 L1858.1,82.6 L1861.4,76.9 L1864.6,71.2 L1867.9,65.4 L1871.1,59.7 L1874.4,53.9 L1877.6,48.2 L1880.9,42.5 L1884.1,36.7 L1887.4,31.0 L1890.6,25.3"/>
<path stroke="#0000ff" d="M267.2,756.9 L270.4,761.1 L273.7,765.3 L276.9,769.5 L280.2,773.7 L283.4,777.9 L286.7,782.0 L289.9,786.2 L293.2,790.4 L296.4,794.5 L299.7,798.7 L302.9,802.8 L306.2,807.0 L309.4,811.1 L312.7,815.2 L315.9,819.3 L319.1,823.4 L322.4,827.5 L325.6,831.6 L328.9,835.7 L332.1,839.8 L335.4,843.8 L338.6,847.8 L341.9,851.9 L345.1,855.9 L348.4,859.9 L351.6,863.9 L354.9,867.8 L358.1,871.8 L361.4,875.7 L364.6,879.7 L367.9,883.6 L371.1,887.5 L374.3,891.3 L377.6,895.2 L380.8,899.0 L384.1,902.8 L387.3,906.6 L390.6,910.4 L393.8,914.2 L397.1,917.9 L400.3,921.6 L403.6,925.3 L406.8,929.0 L410.1,932.6 L413.3,936.3 L416.6,939.9 L419.8,943.5 L423.0,947.0 L426.3,950.6 L429.5,954.1 L432.8,957.5 L436.0,961.0 L439.3,964.4 L442.5,967.8 L445.8,971.2 L449.0,974.6 L452.3,977.9 L455.5,981.2 L458.8,984.5 L462.0,987.7 L465.3,990.9 L468.5,994.1 L471.8,997.2 L475.0,1000.4 L478.2,1003.5 L481.5,1006.5 L484.7,1009.6 L488.0,1012.6 L491.2,1015.5 L494.5,1018.5 L497.7,1021.4 L501.0,1024.2 L504.2,1027.1 L507.5,1029.9 L510.7,1032.6 L514.0,1035.4 L517.2,1038.1 L520.5,1040.7 L523.7,1043.4 L526.9,1046.0 L530.2,1048.5 L533.4,1051.1 L536.7,1053.6 L539.9,1056.0 L543.2,1058.4 L546.4,1060.8 L549.7,1063.1 L552.9,1065.5 L556.2,1067.7 L559.4,1070.0 L562.7,1072.1 L565.9,1074.3 L569.2,1076.4 L572.4,1078.5 L575.6,1080.5 L578.9,1082.5 L582.1,1084.5 L585.4,1086.4 L588.6,1088.3 L591.9,1090.1 L595.1,1091.9 L598.4,1093.7 L601.6,1095.4 L604.9,1097.1 L608.1,1098.7 L611.4,1100.3 L614.6,1101.9 L617.9,1103.4 L621.1,1104.8 L624.4,1106.3 L627.6,1107.6 L630.8,1109.0 L634.1,1110.3 L637.3,1111.5 L640.6,1112.7 L643.8,1113.9 L647.1,1115.0 L650.3,1116.1 L653.6,1117.2 L656.8,1118.2 L660.1,1119.1 L663.3,1120.0 L666.6,1120.9 L669.8,1121.7 L673.1,1122.5 L676.3,1123.2 L679.5,1123.9 L682.8,1124.5 L686.0,1125.1 L689.3,1125.6 L692.5,1126.2 L695.8,1126.6 L699.0,1127.0 L702.3,1127.4 L705.5,1127.7 L708.8,1128.0 L712.0,1128.2 L715.3,1128.4 L718.5,1128.5 L721.8,1128.6 L725.0,1128.7 L728.3,1128.7 L731.5,1128.6 L734.7,1128.5 L738.0,1128.4 L741.2,1128.2 L744.5,1128.0 L747.7,1127.7 L751.0,1127.4 L754.2,1127.0 L757.5,1126.6 L760.7,1126.1 L764.0,1125.6 L767.2,1125.0 L770.5,1124.4 L773.7,1123.8 L777.0,1123.1 L780.2,1122.3 L783.4,1121.5 L786.7,1120.7 L789.9,1119.8 L793.2,1118.9 L796.4,1117.9 L799.7,1116.9 L802.9,1115.8 L806.2,1114.7 L809.4,1113.5 L812.7,1112.3 L815.9,1111.0 L819.2,1109.7 L822.4,1108.3 L825.7,1106.9 L828.9,1105.5 L832.1,1104.0 L835.4,1102.5 L838.6,1100.9 L841.9,1099.2 L845.1,1097.5 L848.4,1095.8 L851.6,1094.0 L854.9,1092.2 L858.1,1090.4 L861.4,1088.4 L864.6,1086.5 L867.9,1084.5 L871.1,1082.4 L874.4,1080.3 L877.6,1078.2 L880.9,1076.0 L884.1,1073.8 L887.3,1071.5 L890.6,1069.2 L893.8,1066.8 L897.1,1064.4 L900.3,1061.9 L903.6,1059.4 L906.8,1056.8 L910.1,1054.2 L913.3,1051.6 L916.6,1048.9 L919.8,1046.2 L923.1,1043.4 L926.3,1040.6 L929.6,1037.7 L932.8,1034.8 L936.0,1031.9 L939.3,1028.9 L942.5,1025.8 L945.8,1022.8 L949.0,1019.6 L952.3,1016.5 L955.5,1013.2 L958.8,1010.0 L962.0,1006.7 L965.3,1003.4 L968.5,1000.0 L971.8,996.5 L975.0,993.1 L978.3,989.6 L981.5,986.0 L984.8,982.4 L988.0,978.8 L991.2,975.1 L994.5,971.4 L997.7,967.6 L1001.0,963.8 L1004.2,960.0 L1007.5,956.1 L1010.7,952.2 L1014.0,948.2 L1017.2,944.2 L1020.5,940.2 L1023.7,936.1 L1027.0,932.0 L1030.2,927.8 L1033.5,923.6 L1036.7,919.4 L1039.9,915.1 L1043.2,910.8 L1046.4,906.4 L1049.7,902.0 L1052.9,897.6 L1056.2,893.1 L1059.4,888.6 L1062.7,884.1 L1065.9,879.5 L1069.2,874.9 L1072.4,870.2 L1075.7,865.5 L1078.9,860.8 L1082.2,856.1 L1085.4,851.3 L1088.6,846.4 L1091.9,841.6 L1095.1,836.6 L1098.4,831.7 L1101.6,826.7 L1104.9,821.7 L1108.1,816.7 L1111.4,811.6 L1114.6,806.5 L1117.9,801.4 L1121.1,796.2 L1124.4,791.0 L1127.6,785.7 L1130.9,780.4 L1134.1,775.1 L1137.4,769.8 L1140.6,764.4 L1143.8,759.0 L1147.1,753.6 L1150.3,748.1 L1153.6,742.6 L1156.8,737.1 L1160.1,731.5 L1163.3,725.9 L1166.6,720.3 L1169.8,714.7 L1173.1,709.0 L1176.3,703.3 L1179.6,697.6 L1182.8,691.8 L1186.1,686.0 L1189.3,680.2 L1192.5,674.3 L1195.8,668.4 L1199.0,662.5 L1202.3,656.6 L1205.5,650.6 L1208.8,644.6 L1212.0,638.6 L1215.3,632.6 L1218.5,626.5 L1221.8,620.4 L1225.0,614.3 L1228.3,608.2 L1231.5,602.0 L1234.8,595.8 L1238.0,589.6 L1241.2,583.3 L1244.5,577.1 L1247.7,570.8 L1251.0,564.5 L1254.2,558.1 L1257.5,551.8 L1260.7,545.4 L1264.0,539.0 L1267.2,532.5 L1270.5,526.1 L1273.7,519.6 L1277.0,513.1 L1280.2,506.6 L1283.5,500.1 L1286.7,493.5 L1290.0,486.9 L1293.2,480.3 L1296.4,473.7 L1299.7,467.0 L1302.9,460.4 L1306.2,453.7 L1309.4,447.0 L1312.7,440.3 L1315.9,433.5 L1319.2,426.8 L1322.4,420.0 L1325.7,413.2 L1328.9,406.4 L1332.2,399.5 L1335.4,392.7 L1338.7,385.8 L1341.9,378.9 L1345.1,372.0 L1348.4,365.1 L1351.6,358.2 L1354.9,351.2 L1358.1,344.2 L1361.4,337.3 L1364.6,330.3 L1367.9,323.2 L1371.1,316.2 L1374.4,309.2 L1377.6,302.1 L1380.9,295.0 L1384.1,287.9 L1387.4,280.8 L1390.6,273.7 L1393.9,266.5 L1397.1,259.4 L1400.3,252.2 L1403.6,245.1 L1406.8,237.9 L1410.1,230.7 L1413.3,223.4 L1416.6,216.2 L1419.8,209.0 L1423.1,201.7 L1426.3,194.4 L1429.6,187.1 L1432.8,179.8 L1436.1,172.5 L1439.3,165.2 L1442.6,157.9 L1445.8,150.5 L1449.0,143.2 L1452.3,135.8 L1455.5,128.4 L1458.8,121.1 L1462.0,113.7 L1465.3,106.2 L1468.5,98.8 L1471.8,91.4 L1475.0,83.9 L1478.3,76.5 L1481.5,69.0 L1484.8,61.5 L1488.0,54.1 L1491.3,46.6 L1494.5,39.1 L1497.7,31.5 L1501.0,24.0"/>
<path stroke="#ff0000" d="M267.2,755.8 L270.4,760.0 L273.7,764.2 L276.9,768.4 L280.2,772.5 L283.4,776.7 L286.7,780.9 L289.9,785.0 L293.2,789.2 L296.4,793.3 L299.7,797.5 L302.9,801.6 L306.2,805.7 L309.4,809.8 L312.7,813.9 L315.9,818.0 L319.1,822.1 L322.4,826.2 L325.6,830.2 L328.9,834.3 L332.1,838.3 L335.4,842.3 L338.6,846.3 L341.9,850.3 L345.1,854.3 L348.4,858.2 L351.6,862.2 L354.9,866.1 L358.1,870.0 L361.4,873.9 L364.6,877.8 L367.9,881.7 L371.1,885.5 L374.3,889.4 L377.6,893.2 L380.8,897.0 L384.1,900.7 L387.3,904.5 L390.6,908.2 L393.8,911.9 L397.1,915.6 L400.3,919.3 L403.6,922.9 L406.8,926.6 L410.1,930.2 L413.3,933.7 L416.6,937.3 L419.8,940.8 L423.0,944.3 L426.3,947.8 L429.5,951.3 L432.8,954.7 L436.0,958.1 L439.3,961.5 L442.5,964.8 L445.8,968.2 L449.0,971.4 L452.3,974.7 L455.5,978.0 L458.8,981.2 L462.0,984.4 L465.3,987.5 L468.5,990.6 L471.8,993.7 L475.0,996.8 L478.2,999.8 L481.5,1002.8 L484.7,1005.8 L488.0,1008.7 L491.2,1011.7 L494.5,1014.5 L497.7,1017.4 L501.0,1020.2 L504.2,1023.0 L507.5,1025.7 L510.7,1028.4 L514.0,1031.1 L517.2,1033.8 L520.5,1036.4 L523.7,1038.9 L526.9,1041.5 L530.2,1044.0 L533.4,1046.5 L536.7,1048.9 L539.9,1051.3 L543.2,1053.6 L546.4,1056.0 L549.7,1058.3 L552.9,1060.5 L556.2,1062.7 L559.4,1064.9 L562.7,1067.0 L565.9,1069.1 L569.2,1071.2 L572.4,1073.2 L575.6,1075.2 L578.9,1077.2 L582.1,1079.1 L585.4,1080.9 L588.6,1082.8 L591.9,1084.5 L595.1,1086.3 L598.4,1088.0 L601.6,1089.7 L604.9,1091.3 L608.1,1092.9 L611.4,1094.4 L614.6,1095.9 L617.9,1097.4 L621.1,1098.8 L624.4,1100.2 L627.6,1101.5 L630.8,1102.8 L634.1,1104.0 L637.3,1105.2 L640.6,1106.4 L643.8,1107.5 L647.1,1108.6 L650.3,1109.6 L653.6,1110.6 L656.8,1111.6 L660.1,1112.5 L663.3,1113.4 L666.6,1114.2 L669.8,1114.9 L673.1,1115.7 L676.3,1116.4 L679.5,1117.0 L682.8,1117.6 L686.0,1118.1 L689.3,1118.6 L692.5,1119.1 L695.8,1119.5 L699.0,1119.9 L702.3,1120.2 L705.5,1120.5 L708.8,1120.7 L712.0,1120.9 L715.3,1121.1 L718.5,1121.2 L721.8,1121.2 L725.0,1121.2 L728.3,1121.2 L731.5,1121.1 L734.7,1121.0 L738.0,1120.8 L741.2,1120.6 L744.5,1120.3 L747.7,1120.0 L751.0,1119.6 L754.2,1119.2 L757.5,1118.8 L760.7,1118.3 L764.0,1117.7 L767.2,1117.1 L770.5,1116.5 L773.7,1115.8 L777.0,1115.1 L780.2,1114.3 L783.4,1113.5 L786.7,1112.6 L789.9,1111.7 L793.2,1110.7 L796.4,1109.7 L799.7,1108.6 L802.9,1107.5 L806.2,1106.4 L809.4,1105.2 L812.7,1103.9 L815.9,1102.6 L819.2,1101.3 L822.4,1099.9 L825.7,1098.5 L828.9,1097.0 L832.1,1095.4 L835.4,1093.9 L838.6,1092.2 L841.9,1090.6 L845.1,1088.9 L848.4,1087.1 L851.6,1085.3 L854.9,1083.4 L858.1,1081.5 L861.4,1079.6 L864.6,1077.6 L867.9,1075.6 L871.1,1073.5 L874.4,1071.4 L877.6,1069.2 L880.9,1067.0 L884.1,1064.7 L887.3,1062.4 L890.6,1060.0 L893.8,1057.6 L897.1,1055.2 L900.3,1052.7 L903.6,1050.1 L906.8,1047.6 L910.1,1044.9 L913.3,1042.2 L916.6,1039.5 L919.8,1036.8 L923.1,1033.9 L926.3,1031.1 L929.6,1028.2 L932.8,1025.3 L936.0,1022.3 L939.3,1019.2 L942.5,1016.2 L945.8,1013.0 L949.0,1009.9 L952.3,1006.7 L955.5,1003.4 L958.8,1000.1 L962.0,996.8 L965.3,993.4 L968.5,990.0 L971.8,986.5 L975.0,983.0 L978.3,979.4 L981.5,975.9 L984.8,972.2 L988.0,968.5 L991.2,964.8 L994.5,961.1 L997.7,957.3 L1001.0,953.4 L1004.2,949.5 L1007.5,945.6 L1010.7,941.6 L1014.0,937.6 L1017.2,933.6 L1020.5,929.5 L1023.7,925.3 L1027.0,921.2 L1030.2,917.0 L1033.5,912.7 L1036.7,908.4 L1039.9,904.1 L1043.2,899.7 L1046.4,895.3 L1049.7,890.9 L1052.9,886.4 L1056.2,881.9 L1059.4,877.3 L1062.7,872.7 L1065.9,868.1 L1069.2,863.4 L1072.4,858.7 L1075.7,853.9 L1078.9,849.1 L1082.2,844.3 L1085.4,839.5 L1088.6,834.6 L1091.9,829.6 L1095.1,824.7 L1098.4,819.7 L1101.6,814.6 L1104.9,809.5 L1108.1,804.4 L1111.4,799.3 L1114.6,794.1 L1117.9,788.9 L1121.1,783.7 L1124.4,778.4 L1127.6,773.1 L1130.9,767.7 L1134.1,762.3 L1137.4,756.9 L1140.6,751.5 L1143.8,746.0 L1147.1,740.5 L1150.3,735.0 L1153.6,729.4 L1156.8,723.8 L1160.1,718.1 L1163.3,712.5 L1166.6,706.8 L1169.8,701.0 L1173.1,695.3 L1176.3,689.5 L1179.6,683.7 L1182.8,677.8 L1186.1,672.0 L1189.3,666.1 L1192.5,660.1 L1195.8,654.2 L1199.0,648.2 L1202.3,642.2 L1205.5,636.1 L1208.8,630.0 L1212.0,623.9 L1215.3,617.8 L1218.5,611.7 L1221.8,605.5 L1225.0,599.3 L1228.3,593.0 L1231.5,586.8 L1234.8,580.5 L1238.0,574.2 L1241.2,567.9 L1244.5,561.5 L1247.7,555.1 L1251.0,548.7 L1254.2,542.3 L1257.5,535.9 L1260.7,529.4 L1264.0,522.9 L1267.2,516.4 L1270.5,509.8 L1273.7,503.3 L1277.0,496.7 L1280.2,490.1 L1283.5,483.4 L1286.7,476.8 L1290.0,470.1 L1293.2,463.4 L1296.4,456.7 L1299.7,450.0 L1302.9,443.3 L1306.2,436.5 L1309.4,429.7 L1312.7,422.9 L1315.9,416.1 L1319.2,409.2 L1322.4,402.4 L1325.7,395.5 L1328.9,388.6 L1332.2,381.7 L1335.4,374.8 L1338.7,367.8 L1341.9,360.9 L1345.1,353.9 L1348.4,346.9 L1351.6,339.9 L1354.9,332.9 L1358.1,325.8 L1361.4,318.8 L1364.6,311.7 L1367.9,304.6 L1371.1,297.5 L1374.4,290.4 L1377.6,283.3 L1380.9,276.2 L1384.1,269.0 L1387.4,261.9 L1390.6,254.7 L1393.9,247.5 L1397.1,240.3 L1400.3,233.1 L1403.6,225.9 L1406.8,218.7 L1410.1,211.4 L1413.3,204.2 L1416.6,196.9 L1419.8,189.7 L1423.1,182.4 L1426.3,175.1 L1429.6,167.8 L1432.8,160.5 L1436.1,153.2 L1439.3,145.8 L1442.6,138.5 L1445.8,131.2 L1449.0,123.8 L1452.3,116.5 L1455.5,109.1 L1458.8,101.7 L1462.0,94.3 L1465.3,87.0 L1468.5,79.6 L1471.8,72.2 L1475.0,64.8 L1478.3,57.3 L1481.5,49.9 L1484.8,42.5 L1488.0,35.1 L1491.3,27.7"/>
</g>
<text transform="matrix(1 0 0 1.03 0 87.80)" y="0" font-size="63.4px" x="151.97 185.86 201.95">0.4</text>
<text transform="matrix(1 0 0 1.03 0 377.80)" y="0" font-size="63.4px" x="151.97 185.86 201.95">0.3</text>
<text transform="matrix(1 0 0 1.03 0 667.80)" y="0" font-size="63.4px" x="151.97 185.86 201.95">0.2</text>
<text transform="matrix(1 0 0 1.03 0 957.80)" y="0" font-size="63.4px" x="151.97 185.86 205.46">0.1</text>
<text transform="matrix(1 0 0 1.03 0 1247.80)" y="0" font-size="63.4px" x="151.97 185.86 201.95">0.0</text>
<text transform="matrix(1 0 0 1.03 0 1537.80)" y="0" font-size="63.4px" x="131.63 151.97 185.86 205.46" dy="1.36 -1.36 0.00 0.00">-0.1</text>
<text transform="matrix(1 0 0 1.03 0 1599.90)" y="0" font-size="63.4px" x="224.07 257.76 275.21">0.0</text>
<text transform="matrix(1 0 0 1.03 0 1599.90)" y="0" font-size="63.4px" x="613.69 647.38 664.83">0.2</text>
<text transform="matrix(1 0 0 1.03 0 1599.90)" y="0" font-size="63.4px" x="1003.31 1037.00 1054.45">0.4</text>
<text transform="matrix(1 0 0 1.03 0 1599.90)" y="0" font-size="63.4px" x="1392.93 1426.62 1444.07">0.6</text>
<text transform="matrix(1 0 0 1.03 0 1599.90)" y="0" font-size="63.4px" x="1782.55 1816.24 1833.69">0.8</text>
<text transform="matrix(1 0 0 1.03 0 1599.90)" y="0" font-size="63.4px" x="2174.46 2205.86 2223.31">1.0</text>
<text transform="matrix(1 0 0 0.975 0 1710.80)" y="0" font-size="71.6px" x="1218.18">Y</text>
<g transform="translate(69.5,882.6) rotate(-90)"><text y="0" font-size="68.6px"><tspan x="0.5 36.0 57.6">θ-θ</tspan><tspan x="92.5" dy="26" font-size="40.8px">b</tspan></text></g>
<g fill="none" stroke-width="6.9" stroke-linecap="round" shape-rendering="crispEdges">
<path stroke="#000000" d="M282.4,1269.8 H394.8"/>
<path stroke="#00ff00" d="M282.4,1336.6 H394.8"/>
<path stroke="#0000ff" d="M282.4,1403.5 H394.8"/>
<path stroke="#ff0000" d="M282.4,1470.4 H394.8"/>
</g>
<text transform="matrix(1 0 0 1.03 0 1287.90)" y="0" font-size="50.6px"><tspan x="408.52" font-size="44.2px">ϕ</tspan><tspan x="433.07" dy="18.45" font-size="29.8px">1</tspan><tspan x="448.98" dy="-18.45">=</tspan><tspan x="478.02" font-size="44.2px">ϕ</tspan><tspan x="501.65" dy="18.45" font-size="29.8px">2</tspan><tspan x="518.08 547.37 575.10 589.40" dy="-18.45 0.00 0.00 0.00">=0,H</tspan><tspan x="624.25" dy="18.45" font-size="29.8px">2</tspan><tspan x="642.15" dy="-18.45">O</tspan></text>
<text transform="matrix(1 0 0 1.03 0 1354.60)" y="0" font-size="50.6px"><tspan x="408.52" font-size="44.2px">ϕ</tspan><tspan x="433.07" dy="18.45" font-size="29.8px">1</tspan><tspan x="448.98 478.67 505.73 521.91 547.90" dy="-18.45 0.00 0.00 0.00 0.00">=0.1,</tspan><tspan x="561.22" font-size="44.2px">ϕ</tspan><tspan x="584.55" dy="18.45" font-size="29.8px">2</tspan><tspan x="600.88 630.37 658.10 676.00 686.18" dy="-18.45 0.00 0.00 0.00 0.00">=0, I</tspan></text>
<text transform="matrix(1 0 0 1.03 0 1421.20)" y="0" font-size="50.6px"><tspan x="408.52" font-size="44.2px">ϕ</tspan><tspan x="433.07" dy="18.45" font-size="29.8px">1</tspan><tspan x="448.98" dy="-18.45">=</tspan><tspan x="478.02" font-size="44.2px">ϕ</tspan><tspan x="501.65" dy="18.45" font-size="29.8px">2</tspan><tspan x="518.08 547.37 574.63 590.91 616.90 634.50 644.68 657.98" dy="-18.45 0.00 0.00 0.00 0.00 0.00 0.00 0.00">=0.1, II</tspan></text>
<text transform="matrix(1 0 0 1.03 0 1487.90)" y="0" font-size="50.6px"><tspan x="408.52" font-size="44.2px">ϕ</tspan><tspan x="433.07" dy="18.45" font-size="29.8px">1</tspan><tspan x="448.98" dy="-18.45">=</tspan><tspan x="478.02" font-size="44.2px">ϕ</tspan><tspan x="501.65" dy="18.45" font-size="29.8px">2</tspan><tspan x="518.08 547.37 574.63 590.91 616.90 634.50 644.68 657.98 671.88" dy="-18.45 0.00 0.00 0.00 0.00 0.00 0.00 0.00 0.00">=0.1, III</tspan></text>
<g fill="none" stroke-width="7" shape-rendering="crispEdges" clip-path="url(#insclip)">
<path stroke="#0000ff" d="M816.8,652.1 L825.1,641.4 L833.3,630.6 L841.5,619.8 L849.7,609.0 L857.9,598.1 L866.1,587.2 L874.4,576.3 L882.6,565.4 L890.8,554.5 L899.0,543.5 L907.2,532.5 L915.5,521.5 L923.7,510.5 L931.9,499.5 L940.1,488.4 L948.3,477.4 L956.5,466.3 L964.8,455.1 L973.0,444.0 L981.2,432.9 L989.4,421.7 L997.6,410.5 L1005.9,399.3 L1014.1,388.1 L1022.3,376.8 L1030.5,365.5 L1038.7,354.3 L1046.9,343.0 L1055.2,331.7 L1063.4,320.3 L1071.6,309.0 L1079.8,297.6 L1088.0,286.2 L1096.3,274.8 L1104.5,263.4 L1112.7,252.0 L1120.9,240.6 L1129.1,229.1 L1137.3,217.6 L1145.6,206.1 L1153.8,194.6 L1162.0,183.1 L1170.2,171.6 L1178.4,160.0 L1186.6,148.5 L1194.9,136.9 L1203.1,125.3 L1211.3,113.7 L1219.5,102.1 L1227.7,90.4 L1236.0,78.8 L1244.2,67.1 L1252.4,55.4 L1260.6,43.8 L1268.8,32.0 L1277.0,20.3 L1285.3,8.6 L1293.5,-3.1 L1301.7,-14.9 L1309.9,-26.7 L1318.1,-38.5 L1326.4,-50.2 L1334.6,-62.1 L1342.8,-73.9 L1351.0,-85.7 L1359.2,-97.6 L1367.4,-109.4 L1375.7,-121.3 L1383.9,-133.2 L1392.1,-145.1 L1400.3,-157.0 L1408.5,-168.9 L1416.8,-180.8 L1425.0,-192.8 L1433.2,-204.8 L1441.4,-216.7 L1449.6,-228.7 L1457.8,-240.7 L1466.1,-252.7"/>
<path stroke="#ff0000" d="M816.8,618.5 L825.1,607.6 L833.3,596.7 L841.5,585.8 L849.7,574.9 L857.9,563.9 L866.1,552.9 L874.4,541.9 L882.6,530.9 L890.8,519.9 L899.0,508.8 L907.2,497.7 L915.5,486.6 L923.7,475.5 L931.9,464.4 L940.1,453.2 L948.3,442.1 L956.5,430.9 L964.8,419.7 L973.0,408.5 L981.2,397.3 L989.4,386.0 L997.6,374.8 L1005.9,363.5 L1014.1,352.2 L1022.3,340.9 L1030.5,329.6 L1038.7,318.3 L1046.9,306.9 L1055.2,295.6 L1063.4,284.2 L1071.6,272.8 L1079.8,261.4 L1088.0,250.0 L1096.3,238.6 L1104.5,227.2 L1112.7,215.7 L1120.9,204.3 L1129.1,192.8 L1137.3,181.4 L1145.6,169.9 L1153.8,158.4 L1162.0,146.9 L1170.2,135.4 L1178.4,123.8 L1186.6,112.3 L1194.9,100.8 L1203.1,89.2 L1211.3,77.7 L1219.5,66.1 L1227.7,54.5 L1236.0,42.9 L1244.2,31.3 L1252.4,19.8 L1260.6,8.1 L1268.8,-3.5 L1277.0,-15.1 L1285.3,-26.7 L1293.5,-38.3 L1301.7,-50.0 L1309.9,-61.6 L1318.1,-73.2 L1326.4,-84.9 L1334.6,-96.6 L1342.8,-108.2 L1351.0,-119.9 L1359.2,-131.5 L1367.4,-143.2 L1375.7,-154.9 L1383.9,-166.6 L1392.1,-178.3 L1400.3,-189.9 L1408.5,-201.6 L1416.8,-213.3 L1425.0,-225.0 L1433.2,-236.7 L1441.4,-248.4 L1449.6,-260.1 L1457.8,-271.8 L1466.1,-283.5"/>
</g>
<g fill="none" stroke="#000" stroke-width="6.6" stroke-linecap="round" shape-rendering="crispEdges">
<path d="M993.9,333.4 v-4.6"/><path d="M993.9,62.1 v4.6"/>
<path d="M1052.9,333.4 v-2.2"/><path d="M1052.9,62.1 v2.2"/>
<path d="M1111.9,333.4 v-4.6"/><path d="M1111.9,62.1 v4.6"/>
<path d="M1171.0,333.4 v-2.2"/><path d="M1171.0,62.1 v2.2"/>
<path d="M1230.0,333.4 v-4.6"/><path d="M1230.0,62.1 v4.6"/>
<path d="M1289.0,333.4 v-2.2"/><path d="M1289.0,62.1 v2.2"/>
<path d="M955.6,116.4 h2.2"/><path d="M1335.7,116.4 h-2.2"/>
<path d="M955.6,170.6 h4.6"/><path d="M1335.7,170.6 h-4.6"/>
<path d="M955.6,224.9 h2.2"/><path d="M1335.7,224.9 h-2.2"/>
<path d="M955.6,279.1 h4.6"/><path d="M1335.7,279.1 h-4.6"/>
<path stroke-width="6" stroke-linecap="butt" d="M952,62 H1339"/>
<path stroke-width="7" stroke-linecap="butt" d="M952,333.5 H1339"/>
<path stroke-width="7" stroke-linecap="butt" d="M955.5,59 V337"/>
<path stroke-width="7" stroke-linecap="butt" d="M1335.5,59 V337"/>
</g>
<text transform="matrix(1 0 0 1.015 0 73.90)" y="0" font-size="44.2px" x="863.62 889.31 900.55 924.55">0.40</text>
<text transform="matrix(1 0 0 1.015 0 182.42)" y="0" font-size="44.2px" x="863.62 889.31 900.55 924.55">0.38</text>
<text transform="matrix(1 0 0 1.015 0 290.94)" y="0" font-size="44.2px" x="863.62 889.31 900.55 924.55">0.36</text>
<text transform="matrix(1 0 0 1.015 0 389.50)" y="0" font-size="44.2px" x="950.62 975.31 987.55 1011.95">0.58</text>
<text transform="matrix(1 0 0 1.015 0 389.50)" y="0" font-size="44.2px" x="1068.66 1093.35 1105.59 1129.99">0.60</text>
<text transform="matrix(1 0 0 1.015 0 389.50)" y="0" font-size="44.2px" x="1186.70 1211.39 1223.63 1248.03">0.62</text>
<path d="M1054.2,1350.0 L946.8,961.3" stroke="#000" stroke-width="5" stroke-linecap="round" fill="none" shape-rendering="crispEdges"/>
<path d="M940.3,937.7 L954.3,961.3 L940.4,965.2 Z" fill="#000" shape-rendering="crispEdges"/>
<path d="M1481.3,1394.6 L1422.6,1198.3" stroke="#000" stroke-width="5" stroke-linecap="round" fill="none" shape-rendering="crispEdges"/>
<path d="M1415.6,1174.8 L1430.1,1198.1 L1416.3,1202.3 Z" fill="#000" shape-rendering="crispEdges"/>
<text transform="matrix(1 0 0 1.03 0 912.00)" y="0" font-size="56.5px"><tspan x="866.72">P</tspan><tspan x="904.71" dy="21.36" font-size="32.7px">2</tspan><tspan x="922.79 955.20 985.48" dy="-21.36 0.00 0.00">=36</tspan></text>
<text transform="matrix(1 0 0 1.03 0 1419.70)" y="0" font-size="56.5px"><tspan x="1495.92">P</tspan><tspan x="1533.81" dy="21.55" font-size="32.7px">2</tspan><tspan x="1552.69 1584.24" dy="-21.55 0.00">=0</tspan></text>
</svg></body></html>
